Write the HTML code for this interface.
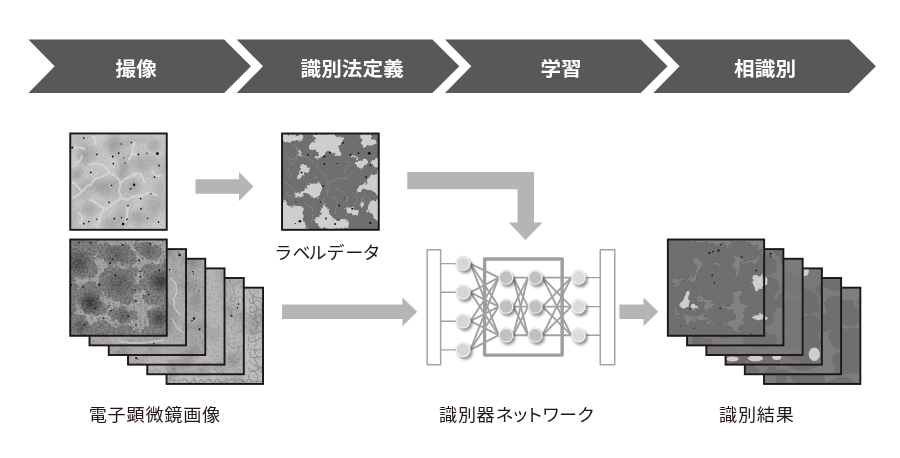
<!DOCTYPE html>
<html lang="ja"><head><meta charset="utf-8"><title>diagram</title>
<style>
html,body{margin:0;padding:0;background:#fff;}
body{width:900px;height:458px;overflow:hidden;}
svg{display:block;}
text{font-family:"Liberation Sans","Noto Sans CJK JP",sans-serif;}
.tx{opacity:0.999;}
.hd{font-weight:700;font-size:19.85px;fill:#fff;text-anchor:middle;letter-spacing:0.15px;}
.lb{font-weight:400;font-size:17.4px;fill:#231815;}
</style></head><body>
<svg width="900" height="458" viewBox="0 0 900 458">
<defs><filter id="rg" x="-5%" y="-5%" width="110%" height="110%" color-interpolation-filters="sRGB"><feTurbulence type="fractalNoise" baseFrequency="0.11" numOctaves="2" seed="7" result="n"/><feDisplacementMap in="SourceGraphic" in2="n" scale="6" xChannelSelector="R" yChannelSelector="G"/></filter>
<filter id="rg2" x="-5%" y="-5%" width="110%" height="110%" color-interpolation-filters="sRGB"><feTurbulence type="fractalNoise" baseFrequency="0.2" numOctaves="2" seed="11" result="n"/><feDisplacementMap in="SourceGraphic" in2="n" scale="4" xChannelSelector="R" yChannelSelector="G"/></filter>
<filter id="gd" x="0" y="0" width="100%" height="100%" color-interpolation-filters="sRGB"><feTurbulence type="fractalNoise" baseFrequency="0.45" numOctaves="3" seed="3"/><feColorMatrix type="matrix" values="0 0 0 0 0 0 0 0 0 0 0 0 0 0 0 2.2 0 0 0 -0.95"/><feComposite in2="SourceGraphic" operator="in"/></filter>
<filter id="gl" x="0" y="0" width="100%" height="100%" color-interpolation-filters="sRGB"><feTurbulence type="fractalNoise" baseFrequency="0.45" numOctaves="3" seed="5"/><feColorMatrix type="matrix" values="0 0 0 0 1 0 0 0 0 1 0 0 0 0 1 2.2 0 0 0 -0.95"/><feComposite in2="SourceGraphic" operator="in"/></filter>
<filter id="md" x="0" y="0" width="100%" height="100%" color-interpolation-filters="sRGB"><feTurbulence type="fractalNoise" baseFrequency="0.045" numOctaves="2" seed="8"/><feColorMatrix type="matrix" values="0 0 0 0 0 0 0 0 0 0 0 0 0 0 0 3.0 0 0 0 -1.35"/><feComposite in2="SourceGraphic" operator="in"/></filter>
<filter id="ml" x="0" y="0" width="100%" height="100%" color-interpolation-filters="sRGB"><feTurbulence type="fractalNoise" baseFrequency="0.045" numOctaves="2" seed="9"/><feColorMatrix type="matrix" values="0 0 0 0 1 0 0 0 0 1 0 0 0 0 1 3.0 0 0 0 -1.35"/><feComposite in2="SourceGraphic" operator="in"/></filter>
<filter id="bl" x="-10%" y="-10%" width="120%" height="120%"><feGaussianBlur stdDeviation="0.7"/></filter>
<filter id="rg3" x="-5%" y="-5%" width="110%" height="110%" color-interpolation-filters="sRGB"><feTurbulence type="fractalNoise" baseFrequency="0.22" numOctaves="3" seed="4" result="n"/><feDisplacementMap in="SourceGraphic" in2="n" scale="5" xChannelSelector="R" yChannelSelector="G"/></filter>
<filter id="rg4" x="-5%" y="-5%" width="110%" height="110%" color-interpolation-filters="sRGB"><feTurbulence type="fractalNoise" baseFrequency="0.2" numOctaves="2" seed="21" result="n"/><feDisplacementMap in="SourceGraphic" in2="n" scale="8" xChannelSelector="R" yChannelSelector="G"/></filter>
<radialGradient id="dm"><stop offset="0" stop-color="#000" stop-opacity="0.14"/><stop offset="0.6" stop-color="#000" stop-opacity="0.07"/><stop offset="1" stop-color="#000" stop-opacity="0"/></radialGradient>
<radialGradient id="dk"><stop offset="0" stop-color="#000" stop-opacity="0.55"/><stop offset="0.5" stop-color="#000" stop-opacity="0.3"/><stop offset="1" stop-color="#000" stop-opacity="0"/></radialGradient>
<clipPath id="c1"><rect x="69.8" y="133" width="97.4" height="97.2"/></clipPath>
<clipPath id="c2"><rect x="281.6" y="133.1" width="97.6" height="97.2"/></clipPath>
<clipPath id="c3"><rect x="166.1" y="287.2" width="97.4" height="97.2"/></clipPath>
<clipPath id="c4"><rect x="146.8" y="277.6" width="97.4" height="97.2"/></clipPath>
<clipPath id="c5"><rect x="127.6" y="267.9" width="97.4" height="97.2"/></clipPath>
<clipPath id="c6"><rect x="108.3" y="258.3" width="97.4" height="97.2"/></clipPath>
<clipPath id="c7"><rect x="89.1" y="248.7" width="97.4" height="97.2"/></clipPath>
<clipPath id="c8"><rect x="69.8" y="239.1" width="97.4" height="97.2"/></clipPath>
<clipPath id="c9"><rect x="763.6" y="287.2" width="97.2" height="97.2"/></clipPath>
<clipPath id="c10"><rect x="744.4" y="277.6" width="97.2" height="97.2"/></clipPath>
<clipPath id="c11"><rect x="725.1" y="267.9" width="97.2" height="97.2"/></clipPath>
<clipPath id="c12"><rect x="705.9" y="258.3" width="97.2" height="97.2"/></clipPath>
<clipPath id="c13"><rect x="686.6" y="248.7" width="97.2" height="97.2"/></clipPath>
<clipPath id="c14"><rect x="667.4" y="239.1" width="97.2" height="97.2"/></clipPath>
<filter id="sh" x="-60%" y="-60%" width="220%" height="220%"><feGaussianBlur stdDeviation="1.4"/></filter></defs>
<rect width="900" height="458" fill="#fff"/>
<polygon points="28.4,39.5 224.1,39.5 251,66.25 224.1,93.0 28.4,93.0 54.7,66.25" fill="#595757"/>
<polygon points="236.7,39.5 432.4,39.5 459.3,66.25 432.4,93.0 236.7,93.0 263,66.25" fill="#595757"/>
<polygon points="445,39.5 640.7,39.5 667.6,66.25 640.7,93.0 445,93.0 471.3,66.25" fill="#595757"/>
<polygon points="653.3,39.5 849,39.5 875.9,66.25 849,93.0 653.3,93.0 679.6,66.25" fill="#595757"/>
<g class="tx">
<text class="hd" transform="translate(136.20 76.1) scale(1.035 1)">撮像</text>
<text class="hd" transform="translate(352.20 76.1) scale(1.035 1)">識別法定義</text>
<text class="hd" transform="translate(561.10 76.1) scale(1.035 1)">学習</text>
<text class="hd" transform="translate(765.10 76.1) scale(1.035 1)">相識別</text>
</g>
<polygon points="195.5,179.2 239.0,179.2 239.0,172.1 253.4,186.5 239.0,200.9 239.0,193.8 195.5,193.8" fill="#b5b5b6"/>
<polygon points="282.1,304.5 402.4,304.5 402.4,297.4 417.2,311.8 402.4,326.2 402.4,319.1 282.1,319.1" fill="#b5b5b6"/>
<polygon points="619.4,304.5 643.5,304.5 643.5,297.4 658.3,311.8 643.5,326.2 643.5,319.1 619.4,319.1" fill="#b5b5b6"/>
<polygon points="407.3,172.1 534,172.1 534,222.5 542.5,222.5 525.5,239.9 508.7,222.5 517.5,222.5 517.5,189.2 407.3,189.2" fill="#b5b5b6"/>
<g clip-path="url(#c1)"><rect x="69.3" y="132.5" width="98.4" height="98.2" fill="#c4c4c4"/><rect x="69.3" y="132.5" width="99" height="99" filter="url(#md)" opacity="0.1"/><rect x="69.3" y="132.5" width="99" height="99" filter="url(#ml)" opacity="0.15"/><circle cx="86.5" cy="153.8" r="13.1" fill="url(#dm)"/><circle cx="101.8" cy="186.6" r="13.1" fill="url(#dm)"/><circle cx="141.1" cy="164.8" r="13.1" fill="url(#dm)"/><circle cx="152" cy="206.2" r="13.1" fill="url(#dm)"/><circle cx="123.6" cy="169.1" r="9.8" fill="url(#dm)"/><circle cx="90.8" cy="208.4" r="10.9" fill="url(#dm)"/><circle cx="134.5" cy="186.6" r="8.7" fill="url(#dm)"/><circle cx="112.7" cy="145.1" r="10.9" fill="url(#dm)"/><circle cx="154.2" cy="145.1" r="8.7" fill="url(#dm)"/><circle cx="77.7" cy="173.5" r="8.7" fill="url(#dm)"/><circle cx="138.9" cy="219.3" r="9.8" fill="url(#dm)"/><circle cx="108.3" cy="223.7" r="8.7" fill="url(#dm)"/><g fill="none" stroke="#dcdcdc" stroke-width="2.3" stroke-linecap="round" filter="url(#bl)" opacity="0.75"><path d="M72.3 148.4C74.8 148.2 75.9 147.4 79.9 147.7C83.9 148.1 82.8 148.9 84.3 149.5"/><path d="M93 136.4C93.7 137.8 94.8 138.2 95.2 140.7C95.6 143.3 94.5 142.9 94.1 144"/><path d="M89.7 164.8C92.3 164.4 92.3 162.9 97.4 163.7C102.5 164.4 101 164 105 166.9C109 169.8 105.8 169.1 109.4 172.4C113 175.7 112.3 173.1 115.9 176.8C119.6 180.4 119.2 178.6 120.3 183.3C121.4 188 119.2 186.2 119.2 191C119.2 195.7 122.5 193.1 120.3 197.5C118.1 201.9 117 200.4 112.7 204.1C108.3 207.7 110.8 205.5 107.2 208.4C103.6 211.3 104.3 209.1 101.8 212.8C99.2 216.4 101 215 99.6 219.3C98.1 223.7 98.1 223.7 97.4 225.9"/><path d="M120.3 183.3C122.1 181.9 121.8 181.5 125.8 178.9C129.8 176.4 128 177.5 132.3 175.7C136.7 173.8 135.6 173.1 138.9 173.5C142.1 173.8 140.3 173.8 142.1 176.8C144 179.7 143.6 180.4 144.3 182.2"/><path d="M72.3 182.2C74.1 183.7 74.5 183.7 77.7 186.6C81 189.5 79.2 191 82.1 191C85 191 83.6 188.8 86.5 186.6C89.4 184.4 87.9 186.9 90.8 184.4C93.7 181.9 91.6 181.5 95.2 178.9C98.8 176.4 97 178.9 101.8 176.8C106.5 174.6 106.8 173.8 109.4 172.4"/><path d="M82.1 191C80.6 192.4 80.6 193.1 77.7 195.3C74.8 197.5 74.8 196.8 73.4 197.5"/><path d="M90.8 199.7C93 201.1 93.7 201.5 97.4 204.1C101 206.6 98.5 205.9 101.8 207.3C105 208.8 105.4 208.1 107.2 208.4"/><path d="M120.3 197.5C122.5 198.2 123.2 199.7 126.9 199.7C130.5 199.7 126.5 199 131.2 197.5C136 196 134.9 196.8 141.1 195.3C147.2 193.9 144.7 193.1 149.8 193.1C154.9 193.1 154.2 194.6 156.3 195.3"/><path d="M128 206.2C127.6 209.1 127.6 209.9 126.9 215C126.1 220.1 126.1 219.3 125.8 221.5"/><path d="M134.5 142.9C133.8 145.1 133.4 145.1 132.3 149.5C131.2 153.8 132.7 152.4 131.2 156C129.8 159.7 129 158.9 128 160.4"/><path d="M131.2 156C132.3 155.3 132 154.2 134.5 153.8C137 153.5 137.4 154.6 138.9 154.9"/><path d="M75.6 162.6C77 161.8 77.7 162.6 79.9 160.4C82.1 158.2 81.4 157.5 82.1 156"/><path d="M152 171.3C153.4 172.8 153.4 174.6 156.3 175.7C159.2 176.8 159.2 174.9 160.7 174.6"/><path d="M77.7 212.8C79.2 214.2 81.4 213.5 82.1 217.2C82.8 220.8 80.6 221.5 79.9 223.7"/></g><rect x="69.3" y="132.5" width="99" height="99" filter="url(#gd)" opacity="0.08"/><rect x="69.3" y="132.5" width="99" height="99" filter="url(#gl)" opacity="0.08"/><g fill="#111"><circle cx="83.8" cy="138.1" r="0.85"/><circle cx="72.3" cy="147.7" r="1.1"/><circle cx="96.9" cy="154.3" r="0.85"/><circle cx="112.7" cy="156.5" r="1.0"/><circle cx="118.8" cy="153.2" r="0.85"/><circle cx="123.6" cy="157.8" r="0.6"/><circle cx="121.4" cy="144" r="0.7"/><circle cx="131.2" cy="142.5" r="0.85"/><circle cx="138.4" cy="154.5" r="1.0"/><circle cx="146.9" cy="153.2" r="0.7"/><circle cx="157.4" cy="153.4" r="1.5"/><circle cx="113.3" cy="163.7" r="0.85"/><circle cx="125.1" cy="163.2" r="0.6"/><circle cx="159" cy="165.4" r="0.85"/><circle cx="90.8" cy="172.4" r="0.85"/><circle cx="154.6" cy="177.2" r="0.85"/><circle cx="111.6" cy="185.5" r="0.7"/><circle cx="134.1" cy="184.8" r="1.3"/><circle cx="130.6" cy="188.8" r="0.85"/><circle cx="150.9" cy="193.8" r="0.7"/><circle cx="140.6" cy="198.6" r="0.85"/><circle cx="109" cy="202.3" r="0.85"/><circle cx="128" cy="205.6" r="0.85"/><circle cx="141.1" cy="208.9" r="0.85"/><circle cx="114.4" cy="218.7" r="0.85"/><circle cx="121.4" cy="217.8" r="0.7"/><circle cx="126.9" cy="219.3" r="0.85"/><circle cx="123.1" cy="224.1" r="1.3"/><circle cx="88.7" cy="221.5" r="0.85"/><circle cx="83.8" cy="223.7" r="0.85"/><circle cx="96.9" cy="219.3" r="0.7"/><circle cx="147.6" cy="218.2" r="0.7"/><circle cx="158.5" cy="222.2" r="0.85"/></g></g><rect x="70.25" y="133.45" width="96.50" height="96.35" fill="none" stroke="#1f1512" stroke-width="1.9"/>
<g clip-path="url(#c2)"><rect x="281.1" y="132.6" width="98.6" height="98.2" fill="#6f6f6f"/><g fill="none" stroke="#898989" stroke-width="0.9" filter="url(#rg)"><path d="M284.5 155.5C287.4 156.2 288.2 158.1 293.4 157.7C298.6 157.4 294.8 154 300 154.4C305.2 154.8 304.5 155.5 309 158.8C313.4 162.2 309.7 161.1 313.4 164.4C317.1 167.7 316.4 165.1 320.1 168.9C323.8 172.6 321.9 170.7 324.5 175.5C327.1 180.4 327.1 178.1 327.9 183.3C328.6 188.5 327.9 186.3 326.8 191.1C325.7 196 326 193.4 324.5 197.8C323.1 202.3 323.1 202.3 322.3 204.5"/><path d="M327.9 183.3C330.5 182.2 330.1 181.5 335.7 180C341.2 178.5 339.4 181.1 344.6 178.9C349.8 176.7 347.6 175.9 351.3 173.3C355 170.7 354.2 171.8 355.7 171.1"/><path d="M284.5 182.2C286.7 183.7 287.4 183.7 291.1 186.7C294.8 189.6 295.6 188.2 295.6 191.1C295.6 194.1 294.1 194.5 291.1 195.6C288.2 196.7 288.2 194.8 286.7 194.5"/><path d="M335.7 186.7C337.9 188.9 338.6 189.6 342.4 193.4C346.1 197.1 346.1 194.8 346.8 197.8C347.6 200.8 345.3 200.8 344.6 202.3"/><path d="M346.8 157.7C347.6 160 349.8 160.7 349 164.4C348.3 168.1 345.3 165.1 344.6 168.9C343.8 172.6 346.1 173.3 346.8 175.5"/><path d="M304.5 204.5C306.7 205.6 308.2 204.1 311.2 207.8C314.1 211.5 313.4 210.8 313.4 215.6C313.4 220.5 311.9 220.1 311.2 222.3"/><path d="M286.7 168.9C288.2 170.3 290.4 170.3 291.1 173.3C291.9 176.3 289.7 176.3 288.9 177.8"/><path d="M293.4 144.4C294.8 146.6 297.1 145.8 297.8 151C298.6 156.2 298.6 155.5 295.6 160C292.6 164.4 291.1 162.9 288.9 164.4"/><path d="M331.2 197.8C333.5 199.3 336.4 197.8 337.9 202.3C339.4 206.7 334.9 206 335.7 211.2C336.4 216.4 338.6 215.6 340.1 217.9"/><path d="M353.5 193.4C355 194.8 357.2 194.1 358 197.8C358.7 201.5 356.5 202.3 355.7 204.5"/><path d="M313.4 177.8C314.9 178.9 317.1 178.1 317.9 181.1C318.6 184.1 316.4 184.8 315.6 186.7"/><path d="M364.6 195.6C363.9 197.1 362 197.1 362.4 200C362.8 203 364.6 203 365.7 204.5"/></g><g fill="#cecece" filter="url(#rg3)"><path d="M282.3 134.4C283.2 132.9 283.5 134.2 286.8 134.4C290.2 134.7 291 135.3 294.8 135.3C298.6 135.4 299.1 133.7 301 134.6C302.9 135.6 302.9 137.2 301.8 139C300.8 140.7 299.2 140.8 297 141.2C294.9 141.7 295.5 140.2 293.6 140.7C291.8 141.1 292.3 142.5 290.2 142.9C288.1 143.4 287.6 143.1 285.7 142.4C283.8 141.6 284.1 142.2 283.2 140.1C282.3 138 281.3 135.9 282.3 134.4Z"/><path d="M313 135.3C313.6 133.7 314.2 134.3 317.5 133.8C320.8 133.4 321.2 133.3 325.5 133.5C329.7 133.7 330.4 133.6 333.4 134.4C336.4 135.3 334.5 135.8 336.8 136.7C339.1 137.5 340 137.3 341.9 137.6C343.9 137.9 343.9 136.7 344.2 137.8C344.5 138.9 344 140 343.1 141.8C342.2 143.6 341.9 143 340.8 144.6C339.7 146.3 338.9 145.6 339.1 148C339.2 150.5 341.4 151.3 341.4 153.7C341.4 156.2 340.6 156.8 339.1 157.1C337.6 157.4 337.6 155.8 335.7 154.9C333.8 154 333.6 154.8 332 153.7C330.5 152.7 331.2 151.4 330 150.9C328.8 150.3 329.5 150.5 327.7 151.7C325.9 152.9 325.3 153.9 323.2 155.4C321.1 156.9 321.9 156.5 319.8 157.4C317.7 158.3 316.7 159.1 315.2 158.8C313.7 158.6 313.2 157.6 314.1 156.6C315 155.5 317.7 156.2 318.6 154.9C319.5 153.5 319 152.7 317.5 151.5C316 150.2 315.2 151.2 313 150.3C310.7 149.4 309.6 149.9 309 148C308.4 146.2 309 145.6 310.7 143.5C312.3 141.4 314.6 142.3 315.2 140.1C315.8 137.9 312.3 137 313 135.3Z"/><path d="M300.5 166.2C301.8 165.2 302.7 164.5 305 165.1C307.3 165.7 308.1 166.7 309 168.5C309.9 170.3 309.6 170.5 308.4 171.9C307.2 173.3 305.9 172.4 304.4 173.6C302.9 174.8 303.8 175.1 302.7 176.5C301.7 177.8 302 178.4 300.5 178.7C298.9 179 298.1 178.7 297 177.6C296 176.5 295.9 176.1 296.5 174.8C297.1 173.4 298.4 174 299.3 172.5C300.2 171 299.6 170.7 299.9 169.1C300.2 167.4 299.1 167.3 300.5 166.2Z"/><path d="M298.2 150.3C298.6 150.3 299 151.2 299.9 152.6C300.8 154 301.6 154.8 301.6 155.4C301.6 156 300.8 155.6 299.9 154.9C299 154.1 298.6 153.8 298.2 152.6C297.7 151.4 297.7 150.3 298.2 150.3Z"/><path d="M360.7 134.4C363 133.2 366.9 133.2 369.8 134.4C372.7 135.6 370 137.1 371.5 139C373 140.8 374.2 140 375.5 141.2C376.7 142.4 376.9 142.4 376 143.5C375.1 144.6 374.3 144.6 372 145.2C369.8 145.8 369.9 145 367.5 145.8C365.1 146.5 364.5 148.7 363 148C361.4 147.4 362.3 145.9 361.8 143.5C361.4 141.1 361.6 141.4 361.2 139C360.9 136.5 358.4 135.6 360.7 134.4Z"/><path d="M355.6 162.8C356 161.3 357.3 161.5 359.5 160.5C361.8 159.6 362 159 364.1 159.4C366.2 159.9 367.2 160.7 367.5 162.2C367.8 163.8 366.4 164 365.2 165.1C364 166.2 364.2 165.3 363 166.2C361.7 167.1 362 168.5 360.7 168.5C359.3 168.5 359.2 167.7 357.8 166.2C356.5 164.7 355.1 164.3 355.6 162.8Z"/><path d="M351.6 155.4C352.3 155.1 353.8 155.1 355.6 156C357.4 156.9 358.3 158.2 358.4 158.8C358.6 159.4 357.7 158.7 356.1 158.3C354.6 157.8 353.9 157.9 352.7 157.1C351.5 156.4 350.8 155.7 351.6 155.4Z"/><path d="M372 161.7C373.4 160 374.6 158.7 376.6 158.3C378.6 157.8 378.7 157.4 379.4 160C380.2 162.6 380.6 166.3 379.4 167.9C378.2 169.6 377 167.1 374.9 166.2C372.8 165.3 372.2 165.7 371.5 164.5C370.7 163.3 370.7 163.3 372 161.7Z"/><path d="M367.5 179.9C368.7 177.8 368.8 177 370.9 175.3C373 173.7 373.2 173.9 375.5 173.6C377.7 173.3 378.4 168.6 379.4 174.2C380.5 179.8 380.5 189.3 379.4 194.6C378.4 199.9 377.1 195 375.5 194.1C373.8 193.2 375 192.3 373.2 191.2C371.4 190.2 371.1 190.7 368.6 190.1C366.2 189.5 366.2 188.5 364.1 189C362 189.4 362.5 190.9 360.7 191.8C358.9 192.7 358.5 193.1 357.3 192.4C356.1 191.6 355.5 190.5 356.1 189C356.7 187.4 357.7 187.9 359.5 186.7C361.4 185.5 361.1 185.4 363 184.4C364.8 183.4 365.2 184.3 366.4 183C367.6 181.8 366.3 181.9 367.5 179.9Z"/><path d="M306.7 186.7C308.4 185.2 307.8 185.3 310.7 184.4C313.6 183.5 314.8 183.1 317.5 183.3C320.2 183.4 320.2 183.2 320.9 185C321.7 186.8 320.8 187.8 320.3 190.1C319.9 192.4 319.7 191.4 319.2 193.5C318.8 195.6 320 196.7 318.6 198C317.3 199.4 315.9 199.2 314.1 198.6C312.3 198 313.3 197.1 311.8 195.8C310.3 194.4 310.4 194 308.4 193.5C306.4 193 306.4 193.3 304.4 194.1C302.5 194.8 303 195.4 301 196.3C299.1 197.2 298.6 197.8 297 197.5C295.5 197.2 295.3 196.4 295.3 195.2C295.3 194 295.4 193.7 297 192.9C298.7 192.2 299.6 193.1 301.6 192.4C303.6 191.6 303.1 191.6 304.4 190.1C305.8 188.6 305 188.2 306.7 186.7Z"/><path d="M282.3 202C283.5 194.8 285.2 201.7 286.8 202.6C288.5 203.5 286.4 204.4 288.5 205.4C290.6 206.5 291.6 206.4 294.8 206.6C298 206.7 298.3 205.4 300.5 206C302.6 206.6 302.4 207 302.7 208.8C303 210.7 301.3 211.2 301.6 212.8C301.9 214.5 303.6 213.6 303.9 215.1C304.2 216.6 302.6 216.7 302.7 218.5C302.9 220.3 303.7 219.8 304.4 221.9C305.2 224 305.1 224.3 305.6 226.5C306.1 228.6 312.6 229 306.4 229.9C300.2 230.8 288.7 237.3 282.3 229.9C275.8 222.4 281.1 209.3 282.3 202Z"/><path d="M322.6 205.4C323.7 204.1 324.1 204.4 325.5 205.4C326.8 206.5 326.5 207.1 327.7 209.4C328.9 211.7 328.5 211.8 330 214C331.5 216.1 331.6 215.7 333.4 217.4C335.2 219 334.7 219.4 336.8 220.2C338.9 221.1 338.6 220.7 341.4 220.5C344.1 220.4 345.1 219 347 219.6C349 220.3 348.4 221.2 348.8 223C349.1 224.9 349.2 225 348.2 226.5C347.1 227.9 347.8 227.7 344.8 228.5C341.7 229.3 342 229.4 336.8 229.6C331.7 229.8 330 230.1 325.5 229.3C320.9 228.4 322.2 228.1 319.8 226.5C317.3 224.8 317.4 225.2 316.4 223C315.3 220.9 314.9 220.6 315.8 218.5C316.7 216.4 318.3 217.2 319.8 215.1C321.3 213 320.7 213.1 321.5 210.5C322.2 208 321.6 206.8 322.6 205.4Z"/><path d="M369.8 201.5C371.1 200.2 371.7 200.2 374.3 200.3C376.9 200.5 378.1 196.9 379.4 202C380.8 207.2 380.5 215.1 379.4 219.6C378.4 224.2 377.1 220.3 375.5 219.1C373.8 217.9 374.7 216.8 373.2 215.1C371.7 213.4 371.6 213.7 369.8 212.8C368 211.9 366.7 212.9 366.4 211.7C366.1 210.5 367.9 210.1 368.6 208.3C369.4 206.5 368.9 206.7 369.2 204.9C369.5 203 368.4 202.7 369.8 201.5Z"/><path d="M345.9 208.3C347 207.2 347.5 206.9 349.3 206.6C351.1 206.3 351.5 206.4 352.7 207.1C353.9 207.9 352.7 208.5 353.9 209.4C355.1 210.3 356.1 209.6 357.3 210.5C358.5 211.5 358.7 211.6 358.4 212.8C358.1 214 357.7 214.6 356.1 215.1C354.6 215.5 354.5 215 352.7 214.5C350.9 214.1 351 213.8 349.3 213.4C347.7 212.9 347.5 213.6 346.5 212.8C345.4 212.1 345.5 211.8 345.3 210.5C345.2 209.3 344.8 209.3 345.9 208.3Z"/><path d="M360.1 202.6C360.7 201.5 361.3 201.2 362.4 201.5C363.4 201.8 364.1 202.4 364.1 203.7C364.1 205.1 363.4 206.1 362.4 206.6C361.3 207 360.7 206.5 360.1 205.4C359.5 204.4 359.5 203.7 360.1 202.6Z"/></g><g fill="#111"><circle cx="307.8" cy="154.9" r="0.9"/><circle cx="324.3" cy="156.6" r="1.1"/><circle cx="330" cy="152.6" r="1.1"/><circle cx="324.3" cy="164" r="0.9"/><circle cx="301.6" cy="172.5" r="1.0"/><circle cx="343.1" cy="142.9" r="0.9"/><circle cx="350.5" cy="154.9" r="0.9"/><circle cx="358.4" cy="153.2" r="0.9"/><circle cx="369.2" cy="153.2" r="1.5"/><circle cx="370.3" cy="165.1" r="0.9"/><circle cx="366.1" cy="177" r="0.9"/><circle cx="337.4" cy="163.4" r="0.6"/><circle cx="323.2" cy="186.1" r="0.9"/><circle cx="320.3" cy="202" r="0.7"/><circle cx="299.9" cy="221.3" r="1.3"/><circle cx="295.3" cy="223.6" r="0.7"/><circle cx="326" cy="218.5" r="0.9"/><circle cx="295.9" cy="202" r="0.6"/><circle cx="339.1" cy="205.4" r="1.0"/><circle cx="352.2" cy="208.8" r="1.0"/><circle cx="370.3" cy="223" r="1.1"/><circle cx="335.1" cy="224" r="1.0"/><circle cx="338" cy="219.6" r="0.7"/><circle cx="344.2" cy="198" r="0.6"/></g></g><rect x="282.05" y="133.50" width="96.70" height="96.30" fill="none" stroke="#1f1512" stroke-width="1.9"/>
<g clip-path="url(#c3)"><rect x="165.6" y="286.7" width="98.4" height="98.2" fill="#b6b6b6"/><rect x="165.6" y="286.7" width="99" height="99" fill="#bcbcbc"/><rect x="165.6" y="286.7" width="99" height="99" filter="url(#md)" opacity="0.16"/><rect x="165.6" y="286.7" width="99" height="99" filter="url(#ml)" opacity="0.08"/><g fill="none" stroke="#7c7c7c" stroke-width="0.8" stroke-linecap="round" opacity="0.9"><path d="M249 290.7C250.5 292.5 250.4 293.8 253.3 296C256.2 298.2 255 296.3 257.8 297.2C260.6 298.1 260.4 298.3 261.7 298.8"/><path d="M249.4 298.4C250.1 300.1 248.7 302.8 251.7 303.4C254.7 304.1 255 299.1 258.4 300.4C261.7 301.6 260.6 304.9 261.7 307.1"/><path d="M250.7 306C250.8 308.2 248 311.5 251 312.5C254 313.5 256.2 309.4 259.8 309.1C263.3 308.7 261.1 310.7 261.7 311.5"/><path d="M249.4 313.7C250.8 315.6 249.9 319.1 253.5 319.4C257 319.8 257.3 314.1 260 314.8C262.8 315.5 261.2 319.3 261.7 321.5"/><path d="M250.7 321.4C252.6 323.2 254.5 326.8 256.6 326.8C258.7 326.8 255.2 321.7 257 321.4C258.7 321.1 260.1 324.5 261.7 326"/><path d="M250.5 329C251.2 330.5 249 332.7 252.6 333.5C256.1 334.3 258.2 330.8 261.2 331.5C264.3 332.3 261.6 334.4 261.7 335.8"/><path d="M248.5 336.7C249.4 338.5 247 341.6 251.1 342C255.3 342.5 257.4 338 261 338C264.5 337.9 261.5 340.5 261.7 341.8"/><path d="M248.4 344.4C249.2 346 246.8 347.6 251 349.4C255.1 351.1 257.2 349.1 260.8 349.6C264.4 350.2 261.4 350.6 261.7 351"/><path d="M250.2 352C250.7 353.8 248.8 355.7 251.6 357.3C254.5 358.9 255.2 357.1 258.6 356.8C262 356.6 260.7 356.7 261.7 356.6"/><path d="M249.8 359.7C250.3 360.9 247.7 360.8 251.3 363.4C255 365.9 257.3 366.4 260.8 367.3C264.3 368.1 261.4 366.3 261.7 365.9"/><path d="M248.4 367.4C249.7 368.7 248.4 371 252.2 371.5C256 371.9 256.7 368.6 259.8 368.8C263 369 261.1 370.9 261.7 372"/><path d="M248.6 375C249.6 376.9 247.6 378.6 251.7 380.6C255.8 382.7 257.5 381 260.8 381.3C264.2 381.5 261.4 381.4 261.7 381.4"/><path d="M169.6 378.5C171 379.2 171.6 379.9 173.9 380.5C176.2 381.1 174.7 379.7 176.6 380.3C178.5 381 178.6 381.8 179.6 382.5"/><path d="M177.6 378.5C178.9 379.2 179.2 380.4 181.6 380.7C183.9 381 182.6 378.7 184.6 379.3C186.6 379.8 186.6 381.4 187.6 382.5"/><path d="M185.6 379.2C187 380.5 187.4 382.8 189.8 383.1C192.1 383.4 190.7 380.4 192.6 380.2C194.5 380 194.6 381.7 195.6 382.5"/><path d="M193.6 378.2C195.1 379.9 195.8 382.7 198.2 383.2C200.5 383.7 198.8 379.8 200.6 379.6C202.4 379.3 202.6 381.5 203.6 382.5"/><path d="M201.6 379.3C202.7 380.2 202.5 381.9 204.8 381.9C207.1 382 206.3 379.1 208.6 379.3C210.9 379.5 210.6 381.4 211.6 382.5"/><path d="M209.6 378.7C211 379.9 211.5 381.9 213.9 382.2C216.2 382.5 214.7 379.5 216.6 379.6C218.5 379.7 218.6 381.5 219.6 382.5"/><path d="M217.6 378.9C218.8 379.9 218.8 381 221.1 381.8C223.4 382.6 222.4 381.1 224.6 381.3C226.8 381.6 226.6 382.1 227.6 382.5"/><path d="M225.6 378.7C226.6 379.3 226.4 380.2 228.7 380.5C231 380.8 230.3 378.9 232.6 379.6C234.9 380.3 234.6 381.5 235.6 382.5"/><path d="M233.6 377.6C234.7 378.7 234.5 380.2 236.9 380.8C239.2 381.4 238.4 378.7 240.6 379.3C242.8 379.8 242.6 381.4 243.6 382.5"/><path d="M241.6 380.4C243.1 380.9 243.7 382.3 246.1 381.8C248.4 381.4 246.8 379 248.6 379.2C250.4 379.4 250.6 381.4 251.6 382.5"/><path d="M253.7 294.7C253.6 296.7 252.3 296.7 253.2 300.7C254.1 304.7 255.4 304.7 256.5 306.7"/><path d="M256.9 307.3C256.5 309.3 256.7 309.3 255.7 313.3C254.8 317.3 254.7 317.3 254.1 319.3"/><path d="M254.9 319.8C255.9 321.8 258.8 321.8 257.8 325.8C256.8 329.8 253.9 329.8 252 331.8"/><path d="M251.6 332.4C252.7 334.4 253.4 334.4 254.9 338.4C256.5 342.4 255.8 342.4 256.2 344.4"/><path d="M254.9 345C254.8 347 253.8 347 254.6 351C255.5 355 256.5 355 257.4 357"/><path d="M253.6 357.6C254.7 359.6 255.2 359.6 256.8 363.6C258.4 367.6 257.9 367.6 258.4 369.6"/><path d="M253.2 370.1C254.6 372.1 256.2 372.1 257.3 376.1C258.4 380.1 256.8 380.1 256.5 382.1"/></g><rect x="165.6" y="286.7" width="99" height="99" filter="url(#gd)" opacity="0.13"/><rect x="165.6" y="286.7" width="99" height="99" filter="url(#gl)" opacity="0.1"/></g><rect x="166.55" y="287.65" width="96.50" height="96.25" fill="none" stroke="#1f1512" stroke-width="1.9"/>
<g clip-path="url(#c4)"><rect x="146.3" y="277.1" width="98.4" height="98.2" fill="#b6b6b6"/><rect x="146.3" y="277.1" width="99" height="99" fill="#b4b4b4"/><rect x="146.3" y="277.1" width="99" height="99" filter="url(#md)" opacity="0.16"/><rect x="146.3" y="277.1" width="99" height="99" filter="url(#ml)" opacity="0.08"/><g fill="#111"><circle cx="238.5" cy="304.1" r="0.8"/><circle cx="237.5" cy="307.8" r="0.8"/><circle cx="231.5" cy="315.8" r="1.1"/></g><g fill="none" stroke="#7c7c7c" stroke-width="0.8" stroke-linecap="round" opacity="0.6"><path d="M229.3 281.1C230.8 282.3 229.6 284.6 233.7 284.6C237.9 284.6 238.9 280.1 241.8 281.1C244.7 282.1 242.3 285.4 242.5 287.6"/><path d="M231.1 296.4C231.4 298.1 228.8 301.5 232 301.6C235.1 301.7 237.1 296.5 240.6 296.7C244.1 297 241.8 300.4 242.5 302.3"/><path d="M230.3 311.7C231.6 313.7 231.5 317 234.2 317.6C236.8 318.3 235.5 314.1 238.3 313.6C241 313.2 241.1 315.4 242.5 316.3"/><path d="M229.5 327.1C232 328.9 233.1 331.4 237 332.4C241 333.5 239.5 329.3 241.4 330.1C243.2 330.9 242.1 333.2 242.5 334.8"/><path d="M227.9 342.4C229.7 344.3 228.8 347 233.2 348.1C237.6 349.2 238 346.2 241.1 345.8C244.2 345.4 242 346.5 242.5 346.8"/><path d="M228.5 357.7C229.9 359.1 228.4 361.3 232.7 361.9C237.1 362.4 238.3 357.9 241.5 359.3C244.8 360.8 242.2 363.9 242.5 366.2"/><path d="M150.3 370.5C151.4 371 151.2 372.2 153.5 372C155.8 371.8 155.1 369.5 157.3 369.8C159.6 370.1 159.3 371.8 160.3 372.8"/><path d="M166.3 367.9C167.8 369.8 168.3 373.4 170.6 373.6C172.9 373.7 171.4 368.5 173.3 368.3C175.2 368 175.3 371.3 176.3 372.8"/><path d="M182.3 369.6C183.5 370.6 183.4 372 185.7 372.6C188 373.2 187.1 371.3 189.3 371.4C191.6 371.5 191.3 372.4 192.3 372.8"/><path d="M198.3 368.4C199.3 369.3 199 370.6 201.4 371.1C203.7 371.6 203 369.4 205.3 370C207.7 370.6 207.3 371.9 208.3 372.8"/><path d="M214.3 367.9C215.4 369.4 215.3 371.1 217.6 372.3C219.9 373.5 219.1 371.4 221.3 371.5C223.6 371.7 223.3 372.4 224.3 372.8"/><path d="M233.8 285.1C233.7 287.1 232.5 287.1 233.5 291.1C234.4 295.1 235.5 295.1 236.6 297.1"/><path d="M231.2 314.4C232.6 316.4 234.7 316.4 235.3 320.4C235.8 324.4 233.7 324.4 232.9 326.4"/><path d="M235.4 343.7C236.6 345.7 240.2 345.7 239.1 349.7C237.9 353.7 234.3 353.7 231.9 355.7"/></g><rect x="146.3" y="277.1" width="99" height="99" filter="url(#gd)" opacity="0.13"/><rect x="146.3" y="277.1" width="99" height="99" filter="url(#gl)" opacity="0.1"/></g><rect x="147.29" y="278.02" width="96.50" height="96.25" fill="none" stroke="#1f1512" stroke-width="1.9"/>
<g clip-path="url(#c5)"><rect x="127.1" y="267.4" width="98.4" height="98.2" fill="#b6b6b6"/><rect x="127.1" y="267.4" width="99" height="99" fill="#b5b5b5"/><rect x="127.1" y="267.4" width="99" height="99" filter="url(#md)" opacity="0.16"/><rect x="127.1" y="267.4" width="99" height="99" filter="url(#ml)" opacity="0.08"/><g fill="#111"><circle cx="136.1" cy="358" r="1.1"/><circle cx="137.7" cy="359.1" r="0.7"/></g><rect x="127.1" y="267.4" width="99" height="99" filter="url(#gd)" opacity="0.13"/><rect x="127.1" y="267.4" width="99" height="99" filter="url(#gl)" opacity="0.1"/></g><rect x="128.03" y="268.39" width="96.50" height="96.25" fill="none" stroke="#1f1512" stroke-width="1.9"/>
<g clip-path="url(#c6)"><rect x="107.8" y="257.8" width="98.4" height="98.2" fill="#b6b6b6"/><rect x="107.8" y="257.8" width="99" height="99" fill="#a7a7a7"/><rect x="107.8" y="257.8" width="99" height="99" filter="url(#md)" opacity="0.16"/><rect x="107.8" y="257.8" width="99" height="99" filter="url(#ml)" opacity="0.08"/><g fill="#111"><circle cx="192.9" cy="271.7" r="0.8"/><circle cx="193.5" cy="274" r="0.6"/><circle cx="194" cy="318.5" r="1.2"/><circle cx="192" cy="320.8" r="0.7"/><circle cx="199.5" cy="329.2" r="1.0"/><circle cx="199" cy="290.8" r="0.6"/></g><g fill="none" stroke="#989898" stroke-width="0.8" stroke-linecap="round"><path d="M190 332.8C191.6 335.1 191.3 338.1 195 339.8C198.6 341.5 198.6 335.8 201 337.8C203.3 339.8 201.6 343.1 202 345.8"/></g><rect x="107.8" y="257.8" width="99" height="99" filter="url(#gd)" opacity="0.13"/><rect x="107.8" y="257.8" width="99" height="99" filter="url(#gl)" opacity="0.1"/></g><rect x="108.77" y="258.76" width="96.50" height="96.25" fill="none" stroke="#1f1512" stroke-width="1.9"/>
<g clip-path="url(#c7)"><rect x="88.6" y="248.2" width="98.4" height="98.2" fill="#b6b6b6"/><rect x="88.6" y="248.2" width="99" height="99" fill="#adadad"/><rect x="88.6" y="248.2" width="99" height="99" filter="url(#md)" opacity="0.16"/><rect x="88.6" y="248.2" width="99" height="99" filter="url(#ml)" opacity="0.08"/><g fill="none" stroke="#cfcfcf" stroke-width="1.6" stroke-linecap="round" opacity="0.8"><path d="M170.7 278.2C172.7 281.5 175.7 279.8 176.7 288.2C177.7 296.5 172.7 294.5 173.7 303.2C174.7 311.8 177.7 310.5 179.7 314.2"/><path d="M171.7 318.2C173.7 321.5 173.7 323.5 177.7 328.2C181.7 332.8 181.7 330.8 183.7 332.2"/><path d="M118.6 341C125.2 341.6 123.6 343.3 138.6 343C153.6 342.6 155.2 341 163.6 340"/></g><g fill="#111"><circle cx="179.5" cy="255" r="1.3"/><circle cx="178.2" cy="252.2" r="0.6"/><circle cx="169.5" cy="269.5" r="0.7"/></g><g fill="#111"><circle cx="153.9" cy="343.5" r="0.8"/></g><rect x="88.6" y="248.2" width="99" height="99" filter="url(#gd)" opacity="0.13"/><rect x="88.6" y="248.2" width="99" height="99" filter="url(#gl)" opacity="0.1"/></g><rect x="89.51" y="249.13" width="96.50" height="96.25" fill="none" stroke="#1f1512" stroke-width="1.9"/>
<g clip-path="url(#c8)"><rect x="69.3" y="238.6" width="98.4" height="98.2" fill="#a4a4a4"/><g fill="#7c7c7c" stroke="#7c7c7c" stroke-width="0.8" filter="url(#rg4)"><path d="M97 247C99.2 242.9 98.4 244.1 104.7 243.7C111.1 243.3 109.2 245.5 115.9 245.9C122.6 246.3 119.2 243.3 124.8 244.8C130.4 246.3 128.9 245.9 132.6 250.4C136.3 254.8 135.9 253.7 135.9 258.2C135.9 262.6 136.3 261.5 132.6 263.7C128.9 266 129.6 265.6 124.8 264.8C120 264.1 122.9 261.9 118.1 261.5C113.3 261.1 115.1 264.1 110.3 263.7C105.5 263.4 107.7 263 103.6 260.4C99.6 257.8 100.3 260.4 98.1 255.9C95.8 251.5 94.7 251.1 97 247Z"/><path d="M134.8 243.7C137.8 241.1 139.3 241.8 146 242.6C152.6 243.3 149.7 242.6 154.9 245.9C160.1 249.2 160.8 248.5 161.5 252.6C162.3 256.7 161.2 255.9 157.1 258.2C153 260.4 154.5 260 149.3 259.3C144.1 258.5 145.6 258.9 141.5 255.9C137.4 253 139.3 254.4 137 250.4C134.8 246.3 131.8 246.3 134.8 243.7Z"/><path d="M142.6 267.1C145.2 263.4 145.6 264.1 150.4 263.7C155.2 263.4 151.5 266.7 157.1 266C162.7 265.2 163.8 249.6 167.1 261.5C170.4 273.4 169 287.5 167.1 301.6C165.3 315.7 166 302.7 161.5 303.8C157.1 304.9 158.9 305.7 153.7 304.9C148.5 304.2 148.9 304.9 146 301.6C143 298.2 144.1 299 144.8 294.9C145.6 290.8 149.3 290.8 148.2 289.3C147.1 287.9 145.2 291.2 141.5 290.5C137.8 289.7 137.8 290.5 137 287.1C136.3 283.8 137.4 284.5 139.3 280.4C141.1 276.3 141.5 279.3 142.6 274.9C143.7 270.4 140 270.8 142.6 267.1Z"/><path d="M101.4 272.6C105.1 267.4 103.6 267.4 110.3 266C117 264.5 114 267.8 121.5 268.2C128.9 268.6 127.4 265.2 132.6 267.1C137.8 268.9 136.3 268.9 137 273.7C137.8 278.6 134.8 276.7 134.8 281.5C134.8 286.4 137.8 283 137 288.2C136.3 293.4 133.3 292.7 132.6 297.1C131.8 301.6 137 299.4 134.8 301.6C132.6 303.8 131.8 303.8 125.9 303.8C120 303.8 122.9 303.8 117 301.6C111.1 299.4 113.3 300.8 108.1 297.1C102.9 293.4 104.4 295.6 101.4 290.5C98.4 285.3 99.2 287.5 99.2 281.5C99.2 275.6 97.7 277.8 101.4 272.6Z"/><path d="M79.1 288.2C82.8 284.1 82.1 283.8 88 282.7C94 281.5 92.9 281.5 97 284.9C101 288.2 99.6 287.9 100.3 292.7C101 297.5 97.7 295.6 99.2 299.4C100.7 303.1 102.5 300.1 104.7 303.8C107 307.5 107.7 306.8 105.9 310.5C104 314.2 104.4 313.8 99.2 315C94 316.1 95.5 315 90.3 313.8C85.1 312.7 87.3 315 83.6 311.6C79.9 308.3 81.4 309.4 79.1 303.8C76.9 298.2 76.9 300.1 76.9 294.9C76.9 289.7 75.4 292.3 79.1 288.2Z"/><path d="M69.1 240.3C76.9 227.3 83.6 237 92.5 240.3C101.4 243.7 95.1 244.1 95.8 250.4C96.6 256.7 94.4 253.3 94.7 259.3C95.1 265.2 97.3 262.6 97 268.2C96.6 273.7 97.3 272.6 93.6 276C89.9 279.3 91.4 277.8 85.8 278.2C80.2 278.6 82.5 276.7 76.9 277.1C71.3 277.5 71.7 291.6 69.1 279.3C66.5 267.1 61.3 253.3 69.1 240.3Z"/><path d="M111.4 310.5C115.1 307.5 114 307.2 120.3 307.2C126.6 307.2 125.2 307.9 130.4 310.5C135.6 313.1 135.2 311.6 135.9 315C136.7 318.3 136.7 317.9 132.6 320.5C128.5 323.1 129.6 322.7 123.7 322.7C117.7 322.7 119.6 322.7 114.8 320.5C109.9 318.3 110.3 319.4 109.2 316.1C108.1 312.7 107.7 313.5 111.4 310.5Z"/><path d="M149.3 310.5C152.6 307.5 151.1 308.6 157.1 308.3C163 307.9 163.8 300.1 167.1 309.4C170.4 318.7 174.2 327.2 167.1 336.1C160.1 345 153.7 338.7 146 336.1C138.2 333.5 142.6 332.4 143.7 328.3C144.8 324.2 148.2 327.6 149.3 323.9C150.4 320.1 147.1 321.6 147.1 317.2C147.1 312.7 146 313.5 149.3 310.5Z"/><path d="M69.1 317.2C72.5 310.1 73.6 313.8 79.1 315C84.7 316.1 82.5 316.1 85.8 320.5C89.2 325 88.4 323.1 89.2 328.3C89.9 333.5 94.7 333.5 88 336.1C81.4 338.7 75.4 342.4 69.1 336.1C62.8 329.8 65.8 324.2 69.1 317.2Z"/><path d="M92.5 323.9C97 319 97 321.3 103.6 321.6C110.3 322 105.1 323.5 112.5 325C120 326.5 118.5 324.2 125.9 326.1C133.3 327.9 131.1 327.2 134.8 330.5C138.5 333.9 151.9 334.3 137 336.1C122.2 338 105.1 340.2 90.3 336.1C75.4 332 88 328.7 92.5 323.9Z"/><path d="M69.1 283.8C71.3 274.5 73.6 276 75.8 284.9C78 293.8 78 301.2 75.8 310.5C73.6 319.8 71.3 321.6 69.1 312.7C66.9 303.8 66.9 293.1 69.1 283.8Z"/></g><circle cx="90.3" cy="302.7" r="12.9" fill="url(#dk)" opacity="1"/><circle cx="160.4" cy="281.5" r="12.9" fill="url(#dk)" opacity="1"/><circle cx="78" cy="262.6" r="14.5" fill="url(#dk)" opacity="0.7"/><circle cx="159.3" cy="318.3" r="11.1" fill="url(#dk)" opacity="0.8"/><circle cx="119.2" cy="283.8" r="15.6" fill="url(#dk)" opacity="0.45"/><circle cx="117" cy="254.8" r="13.4" fill="url(#dk)" opacity="0.4"/><circle cx="81.4" cy="326.1" r="8.9" fill="url(#dk)" opacity="0.5"/><circle cx="148.2" cy="250.4" r="8.9" fill="url(#dk)" opacity="0.4"/><circle cx="123.7" cy="315" r="8.9" fill="url(#dk)" opacity="0.4"/><rect x="69.3" y="238.6" width="99" height="99" filter="url(#gd)" opacity="0.3"/><rect x="69.3" y="238.6" width="99" height="99" filter="url(#gl)" opacity="0.15"/><g fill="#111"><circle cx="79.1" cy="242.6" r="0.85"/><circle cx="90.3" cy="242.6" r="0.85"/><circle cx="122.6" cy="244.8" r="0.85"/><circle cx="150.4" cy="243.7" r="0.85"/><circle cx="110.3" cy="263.3" r="0.85"/><circle cx="112.5" cy="259.3" r="0.7"/><circle cx="139.3" cy="260.4" r="0.85"/><circle cx="159.3" cy="270.4" r="0.85"/><circle cx="140.4" cy="271.5" r="0.85"/><circle cx="140.4" cy="277.1" r="0.85"/><circle cx="115.2" cy="275.3" r="0.85"/><circle cx="71.3" cy="284.9" r="0.85"/><circle cx="83.1" cy="287.1" r="0.85"/><circle cx="99.2" cy="284.9" r="1.1"/><circle cx="134.8" cy="290" r="0.85"/><circle cx="148.6" cy="294.5" r="0.85"/><circle cx="135.9" cy="301.1" r="0.85"/><circle cx="109.2" cy="306" r="0.7"/><circle cx="111.4" cy="310.5" r="0.85"/><circle cx="103.6" cy="318.3" r="0.85"/><circle cx="128.1" cy="316.1" r="0.85"/><circle cx="94.7" cy="308.3" r="0.85"/><circle cx="84.7" cy="325" r="0.85"/><circle cx="135.9" cy="325" r="0.85"/><circle cx="121.5" cy="338.3" r="0.85"/></g></g><rect x="70.25" y="239.50" width="96.50" height="96.25" fill="none" stroke="#1f1512" stroke-width="1.9"/>
<g clip-path="url(#c9)"><rect x="763.1" y="286.7" width="98.2" height="98.2" fill="#7a7a7a"/><rect x="763.1" y="286.7" width="99" height="99" fill="#7d7d7d"/><g fill="#6c6c6c" stroke="#626262" stroke-width="0.4" filter="url(#rg)" opacity="0.8"><path d="M812.6 303C815.4 297.9 814.4 299.3 822.3 298.9C830.2 298.4 827.9 301.2 836.3 301.6C844.6 302.1 840.4 298.4 847.4 300.2C854.4 302.1 852.5 301.6 857.1 307.2C861.8 312.8 861.3 311.4 861.3 316.9C861.3 322.5 861.8 321.1 857.1 323.9C852.5 326.7 853.4 326.2 847.4 325.3C841.4 324.4 845.1 321.6 839 321.1C833 320.7 835.3 324.4 829.3 323.9C823.3 323.4 826 323 820.9 319.7C815.8 316.5 816.8 319.7 814 314.2C811.2 308.6 809.8 308.1 812.6 303Z"/><path d="M859.9 298.9C863.6 295.6 865.5 296.5 873.8 297.5C882.2 298.4 878.5 297.5 885 301.6C891.5 305.8 892.4 304.9 893.3 310C894.3 315.1 892.9 314.2 887.8 316.9C882.7 319.7 884.5 319.3 878 318.3C871.5 317.4 873.4 317.9 868.3 314.2C863.2 310.5 865.5 312.3 862.7 307.2C859.9 302.1 856.2 302.1 859.9 298.9Z"/><path d="M869.7 328.1C872.9 323.4 873.4 324.4 879.4 323.9C885.4 323.4 880.8 327.6 887.8 326.7C894.7 325.8 896.1 306.3 900.3 321.1C904.5 336 902.6 353.6 900.3 371.2C898 388.9 898.9 372.6 893.3 374C887.8 375.4 890.1 376.3 883.6 375.4C877.1 374.5 877.6 375.4 873.8 371.2C870.1 367.1 871.5 368 872.4 362.9C873.4 357.8 878 357.8 876.6 355.9C875.2 354.1 872.9 358.2 868.3 357.3C863.6 356.4 863.6 357.3 862.7 353.1C861.8 349 863.2 349.9 865.5 344.8C867.8 339.7 868.3 343.4 869.7 337.8C871.1 332.3 866.4 332.7 869.7 328.1Z"/><path d="M818.2 335C822.8 328.5 820.9 328.5 829.3 326.7C837.6 324.8 833.9 329 843.2 329.5C852.5 329.9 850.6 325.8 857.1 328.1C863.6 330.4 861.8 330.4 862.7 336.4C863.6 342.5 859.9 340.1 859.9 346.2C859.9 352.2 863.6 348 862.7 354.5C861.8 361 858.1 360.1 857.1 365.7C856.2 371.2 862.7 368.5 859.9 371.2C857.1 374 856.2 374 848.8 374C841.4 374 845.1 374 837.6 371.2C830.2 368.5 833 370.3 826.5 365.7C820 361 821.9 363.8 818.2 357.3C814.4 350.8 815.4 353.6 815.4 346.2C815.4 338.8 813.5 341.5 818.2 335Z"/><path d="M790.3 354.5C795 349.4 794 349 801.5 347.6C808.9 346.2 807.5 346.2 812.6 350.4C817.7 354.5 815.8 354.1 816.8 360.1C817.7 366.1 813.5 363.8 815.4 368.5C817.2 373.1 819.6 369.4 822.3 374C825.1 378.7 826 377.7 823.7 382.4C821.4 387 821.9 386.5 815.4 387.9C808.9 389.3 810.7 387.9 804.2 386.5C797.7 385.2 800.5 387.9 795.9 383.8C791.2 379.6 793.1 381 790.3 374C787.5 367.1 787.5 369.4 787.5 362.9C787.5 356.4 785.7 359.6 790.3 354.5Z"/><path d="M777.8 294.7C787.5 278.4 795.9 290.5 807 294.7C818.2 298.9 810.3 299.3 811.2 307.2C812.1 315.1 809.3 310.9 809.8 318.3C810.3 325.8 813.1 322.5 812.6 329.5C812.1 336.4 813.1 335 808.4 339.2C803.8 343.4 805.6 341.5 798.7 342C791.7 342.5 794.5 340.1 787.5 340.6C780.6 341.1 781 358.7 777.8 343.4C774.5 328.1 768 310.9 777.8 294.7Z"/><path d="M830.7 382.4C835.3 378.7 833.9 378.2 841.8 378.2C849.7 378.2 847.9 379.1 854.4 382.4C860.8 385.6 860.4 383.8 861.3 387.9C862.2 392.1 862.2 391.7 857.1 394.9C852 398.1 853.4 397.7 846 397.7C838.6 397.7 840.9 397.7 834.9 394.9C828.8 392.1 829.3 393.5 827.9 389.3C826.5 385.2 826 386.1 830.7 382.4Z"/><path d="M878 382.4C882.2 378.7 880.3 380.1 887.8 379.6C895.2 379.1 896.1 369.4 900.3 381C904.5 392.6 909.1 403.3 900.3 414.4C891.5 425.5 883.6 417.6 873.8 414.4C864.1 411.1 869.7 409.7 871.1 404.6C872.4 399.5 876.6 403.7 878 399.1C879.4 394.4 875.2 396.3 875.2 390.7C875.2 385.2 873.8 386.1 878 382.4Z"/><path d="M777.8 390.7C782 381.9 783.4 386.5 790.3 387.9C797.3 389.3 794.5 389.3 798.7 394.9C802.8 400.5 801.9 398.1 802.8 404.6C803.8 411.1 809.8 411.1 801.5 414.4C793.1 417.6 785.7 422.3 777.8 414.4C769.9 406.5 773.6 399.5 777.8 390.7Z"/><path d="M807 399.1C812.6 393 812.6 395.8 820.9 396.3C829.3 396.8 822.8 398.6 832.1 400.5C841.4 402.3 839.5 399.5 848.8 401.9C858.1 404.2 855.3 403.3 859.9 407.4C864.6 411.6 881.3 412.1 862.7 414.4C844.1 416.7 822.8 419.5 804.2 414.4C785.7 409.3 801.5 405.1 807 399.1Z"/><path d="M777.8 349C780.6 337.4 783.4 339.2 786.1 350.4C788.9 361.5 788.9 370.8 786.1 382.4C783.4 394 780.6 396.3 777.8 385.2C775 374 775 360.6 777.8 349Z"/></g></g><rect x="764.05" y="287.65" width="96.30" height="96.25" fill="none" stroke="#1f1512" stroke-width="1.9"/>
<g clip-path="url(#c10)"><rect x="743.9" y="277.1" width="98.2" height="98.2" fill="#7a7a7a"/><rect x="743.9" y="277.1" width="99" height="99" fill="#7d7d7d"/><g fill="#6c6c6c" stroke="#626262" stroke-width="0.4" filter="url(#rg)" opacity="0.8"><path d="M769.4 275.4C772.1 270.3 771.2 271.7 779.1 271.2C787 270.8 784.7 273.5 793 274C801.4 274.5 797.2 270.8 804.2 272.6C811.1 274.5 809.3 274 813.9 279.6C818.5 285.1 818.1 283.7 818.1 289.3C818.1 294.9 818.5 293.5 813.9 296.3C809.3 299.1 810.2 298.6 804.2 297.7C798.1 296.7 801.8 294 795.8 293.5C789.8 293 792.1 296.7 786.1 296.3C780 295.8 782.8 295.3 777.7 292.1C772.6 288.9 773.5 292.1 770.7 286.5C768 281 766.6 280.5 769.4 275.4Z"/><path d="M816.7 271.2C820.4 268 822.2 268.9 830.6 269.8C839 270.8 835.2 269.8 841.7 274C848.2 278.2 849.2 277.3 850.1 282.4C851 287.5 849.6 286.5 844.5 289.3C839.4 292.1 841.3 291.6 834.8 290.7C828.3 289.8 830.1 290.2 825 286.5C819.9 282.8 822.2 284.7 819.5 279.6C816.7 274.5 813 274.5 816.7 271.2Z"/><path d="M826.4 300.5C829.7 295.8 830.1 296.7 836.2 296.3C842.2 295.8 837.6 300 844.5 299.1C851.5 298.1 852.9 278.6 857 293.5C861.2 308.3 859.4 326 857 343.6C854.7 361.2 855.7 345 850.1 346.4C844.5 347.8 846.8 348.7 840.3 347.8C833.8 346.9 834.3 347.8 830.6 343.6C826.9 339.4 828.3 340.4 829.2 335.3C830.1 330.1 834.8 330.1 833.4 328.3C832 326.4 829.7 330.6 825 329.7C820.4 328.8 820.4 329.7 819.5 325.5C818.5 321.3 819.9 322.3 822.2 317.2C824.6 312.1 825 315.8 826.4 310.2C827.8 304.6 823.2 305.1 826.4 300.5Z"/><path d="M774.9 307.4C779.6 300.9 777.7 300.9 786.1 299.1C794.4 297.2 790.7 301.4 800 301.8C809.3 302.3 807.4 298.1 813.9 300.5C820.4 302.8 818.5 302.8 819.5 308.8C820.4 314.8 816.7 312.5 816.7 318.5C816.7 324.6 820.4 320.4 819.5 326.9C818.5 333.4 814.8 332.5 813.9 338C813 343.6 819.5 340.8 816.7 343.6C813.9 346.4 813 346.4 805.5 346.4C798.1 346.4 801.8 346.4 794.4 343.6C787 340.8 789.8 342.7 783.3 338C776.8 333.4 778.6 336.2 774.9 329.7C771.2 323.2 772.1 326 772.1 318.5C772.1 311.1 770.3 313.9 774.9 307.4Z"/><path d="M747.1 326.9C751.7 321.8 750.8 321.3 758.2 319.9C765.6 318.5 764.2 318.5 769.4 322.7C774.5 326.9 772.6 326.4 773.5 332.5C774.5 338.5 770.3 336.2 772.1 340.8C774 345.5 776.3 341.7 779.1 346.4C781.9 351 782.8 350.1 780.5 354.7C778.2 359.4 778.6 358.9 772.1 360.3C765.6 361.7 767.5 360.3 761 358.9C754.5 357.5 757.3 360.3 752.6 356.1C748 352 749.9 353.3 747.1 346.4C744.3 339.4 744.3 341.7 744.3 335.3C744.3 328.8 742.4 332 747.1 326.9Z"/><path d="M734.6 267C744.3 250.8 752.6 262.9 763.8 267C774.9 271.2 767 271.7 768 279.6C768.9 287.5 766.1 283.3 766.6 290.7C767 298.1 769.8 294.9 769.4 301.8C768.9 308.8 769.8 307.4 765.2 311.6C760.5 315.8 762.4 313.9 755.4 314.4C748.5 314.8 751.3 312.5 744.3 313C737.3 313.4 737.8 331.1 734.6 315.8C731.3 300.5 724.8 283.3 734.6 267Z"/><path d="M787.4 354.7C792.1 351 790.7 350.6 798.6 350.6C806.5 350.6 804.6 351.5 811.1 354.7C817.6 358 817.1 356.1 818.1 360.3C819 364.5 819 364 813.9 367.3C808.8 370.5 810.2 370.1 802.8 370.1C795.3 370.1 797.7 370.1 791.6 367.3C785.6 364.5 786.1 365.9 784.7 361.7C783.3 357.5 782.8 358.5 787.4 354.7Z"/><path d="M834.8 354.7C839 351 837.1 352.4 844.5 352C851.9 351.5 852.9 341.7 857 353.3C861.2 364.9 865.9 375.6 857 386.8C848.2 397.9 840.3 390 830.6 386.8C820.9 383.5 826.4 382.1 827.8 377C829.2 371.9 833.4 376.1 834.8 371.4C836.2 366.8 832 368.7 832 363.1C832 357.5 830.6 358.5 834.8 354.7Z"/><path d="M734.6 363.1C738.7 354.3 740.1 358.9 747.1 360.3C754 361.7 751.3 361.7 755.4 367.3C759.6 372.8 758.7 370.5 759.6 377C760.5 383.5 766.6 383.5 758.2 386.8C749.9 390 742.4 394.6 734.6 386.8C726.7 378.9 730.4 371.9 734.6 363.1Z"/><path d="M763.8 371.4C769.4 365.4 769.4 368.2 777.7 368.7C786.1 369.1 779.6 371 788.8 372.8C798.1 374.7 796.3 371.9 805.5 374.2C814.8 376.5 812 375.6 816.7 379.8C821.3 384 838 384.4 819.5 386.8C800.9 389.1 779.6 391.9 761 386.8C742.4 381.7 758.2 377.5 763.8 371.4Z"/><path d="M734.6 321.3C737.3 309.7 740.1 311.6 742.9 322.7C745.7 333.9 745.7 343.1 742.9 354.7C740.1 366.3 737.3 368.7 734.6 357.5C731.8 346.4 731.8 332.9 734.6 321.3Z"/></g></g><rect x="744.81" y="278.02" width="96.30" height="96.25" fill="none" stroke="#1f1512" stroke-width="1.9"/>
<g clip-path="url(#c11)"><rect x="724.6" y="267.4" width="98.2" height="98.2" fill="#7a7a7a"/><rect x="724.6" y="267.4" width="99" height="99" fill="#787878"/><g fill="#6c6c6c" stroke="#626262" stroke-width="0.4" filter="url(#rg)" opacity="0.8"><path d="M770.1 291.8C772.9 286.7 772 288.1 779.9 287.6C787.7 287.1 785.4 289.9 793.8 290.4C802.1 290.8 798 287.1 804.9 289C811.9 290.8 810 290.4 814.7 295.9C819.3 301.5 818.8 300.1 818.8 305.7C818.8 311.3 819.3 309.9 814.7 312.6C810 315.4 810.9 315 804.9 314C798.9 313.1 802.6 310.3 796.6 309.9C790.5 309.4 792.8 313.1 786.8 312.6C780.8 312.2 783.6 311.7 778.5 308.5C773.4 305.2 774.3 308.5 771.5 302.9C768.7 297.3 767.3 296.9 770.1 291.8Z"/><path d="M817.4 287.6C821.2 284.3 823 285.3 831.4 286.2C839.7 287.1 836 286.2 842.5 290.4C849 294.6 849.9 293.6 850.8 298.7C851.8 303.8 850.4 302.9 845.3 305.7C840.2 308.5 842 308 835.5 307.1C829 306.2 830.9 306.6 825.8 302.9C820.7 299.2 823 301 820.2 295.9C817.4 290.8 813.7 290.8 817.4 287.6Z"/><path d="M827.2 316.8C830.4 312.2 830.9 313.1 836.9 312.6C843 312.2 838.3 316.4 845.3 315.4C852.2 314.5 853.6 295 857.8 309.9C862 324.7 860.1 342.3 857.8 360C855.5 377.6 856.4 361.4 850.8 362.8C845.3 364.2 847.6 365.1 841.1 364.2C834.6 363.2 835.1 364.2 831.4 360C827.6 355.8 829 356.7 830 351.6C830.9 346.5 835.5 346.5 834.1 344.7C832.8 342.8 830.4 347 825.8 346.1C821.2 345.1 821.2 346.1 820.2 341.9C819.3 337.7 820.7 338.6 823 333.5C825.3 328.4 825.8 332.1 827.2 326.6C828.6 321 823.9 321.5 827.2 316.8Z"/><path d="M775.7 323.8C780.3 317.3 778.5 317.3 786.8 315.4C795.2 313.6 791.5 317.8 800.7 318.2C810 318.7 808.2 314.5 814.7 316.8C821.2 319.1 819.3 319.1 820.2 325.2C821.2 331.2 817.4 328.9 817.4 334.9C817.4 341 821.2 336.8 820.2 343.3C819.3 349.8 815.6 348.8 814.7 354.4C813.7 360 820.2 357.2 817.4 360C814.7 362.8 813.7 362.8 806.3 362.8C798.9 362.8 802.6 362.8 795.2 360C787.7 357.2 790.5 359 784 354.4C777.5 349.8 779.4 352.6 775.7 346.1C772 339.6 772.9 342.3 772.9 334.9C772.9 327.5 771 330.3 775.7 323.8Z"/><path d="M747.8 343.3C752.5 338.2 751.6 337.7 759 336.3C766.4 334.9 765 334.9 770.1 339.1C775.2 343.3 773.4 342.8 774.3 348.8C775.2 354.9 771 352.6 772.9 357.2C774.8 361.8 777.1 358.1 779.9 362.8C782.6 367.4 783.6 366.5 781.2 371.1C778.9 375.8 779.4 375.3 772.9 376.7C766.4 378.1 768.3 376.7 761.8 375.3C755.3 373.9 758 376.7 753.4 372.5C748.8 368.3 750.6 369.7 747.8 362.8C745.1 355.8 745.1 358.1 745.1 351.6C745.1 345.1 743.2 348.4 747.8 343.3Z"/><path d="M735.3 283.4C745.1 267.2 753.4 279.2 764.5 283.4C775.7 287.6 767.8 288.1 768.7 295.9C769.6 303.8 766.9 299.7 767.3 307.1C767.8 314.5 770.6 311.3 770.1 318.2C769.6 325.2 770.6 323.8 765.9 328C761.3 332.1 763.2 330.3 756.2 330.7C749.2 331.2 752 328.9 745.1 329.4C738.1 329.8 738.6 347.4 735.3 332.1C732.1 316.8 725.6 299.7 735.3 283.4Z"/><path d="M788.2 371.1C792.8 367.4 791.5 366.9 799.3 366.9C807.2 366.9 805.4 367.9 811.9 371.1C818.4 374.4 817.9 372.5 818.8 376.7C819.8 380.9 819.8 380.4 814.7 383.6C809.6 386.9 810.9 386.4 803.5 386.4C796.1 386.4 798.4 386.4 792.4 383.6C786.4 380.9 786.8 382.2 785.4 378.1C784 373.9 783.6 374.8 788.2 371.1Z"/><path d="M835.5 371.1C839.7 367.4 837.9 368.8 845.3 368.3C852.7 367.9 853.6 358.1 857.8 369.7C862 381.3 866.6 392 857.8 403.1C849 414.3 841.1 406.4 831.4 403.1C821.6 399.9 827.2 398.5 828.6 393.4C830 388.3 834.1 392.5 835.5 387.8C836.9 383.2 832.8 385 832.8 379.5C832.8 373.9 831.4 374.8 835.5 371.1Z"/><path d="M735.3 379.5C739.5 370.6 740.9 375.3 747.8 376.7C754.8 378.1 752 378.1 756.2 383.6C760.4 389.2 759.4 386.9 760.4 393.4C761.3 399.9 767.3 399.9 759 403.1C750.6 406.4 743.2 411 735.3 403.1C727.4 395.2 731.1 388.3 735.3 379.5Z"/><path d="M764.5 387.8C770.1 381.8 770.1 384.6 778.5 385C786.8 385.5 780.3 387.4 789.6 389.2C798.9 391.1 797 388.3 806.3 390.6C815.6 392.9 812.8 392 817.4 396.2C822.1 400.3 838.8 400.8 820.2 403.1C801.7 405.4 780.3 408.2 761.8 403.1C743.2 398 759 393.8 764.5 387.8Z"/><path d="M735.3 337.7C738.1 326.1 740.9 328 743.7 339.1C746.4 350.2 746.4 359.5 743.7 371.1C740.9 382.7 738.1 385 735.3 373.9C732.5 362.8 732.5 349.3 735.3 337.7Z"/></g><g fill="#cecece"><ellipse cx="814.3" cy="354.3" rx="5.6" ry="6.8"/><path d="M803.5 269h5.2c.6 2.5-.2 5-1.6 6.6l-3.6.6z"/><ellipse cx="732.5" cy="359" rx="6.2" ry="2.6"/><ellipse cx="755.5" cy="358.3" rx="7.5" ry="3"/><ellipse cx="776.8" cy="357.6" rx="4.6" ry="2.3"/><ellipse cx="781.5" cy="364.6" rx="2" ry="1.2"/></g></g><rect x="725.57" y="268.39" width="96.30" height="96.25" fill="none" stroke="#1f1512" stroke-width="1.9"/>
<g clip-path="url(#c12)"><rect x="705.4" y="257.8" width="98.2" height="98.2" fill="#7a7a7a"/><rect x="705.4" y="257.8" width="99" height="99" fill="#7b7b7b"/><g fill="#6c6c6c" stroke="#626262" stroke-width="0.4" filter="url(#rg)" opacity="0.25"><path d="M723.9 277.1C726.7 272 725.7 273.4 733.6 273C741.5 272.5 739.2 275.3 747.5 275.7C755.9 276.2 751.7 272.5 758.7 274.4C765.6 276.2 763.8 275.7 768.4 281.3C773.1 286.9 772.6 285.5 772.6 291.1C772.6 296.6 773.1 295.2 768.4 298C763.8 300.8 764.7 300.3 758.7 299.4C752.6 298.5 756.4 295.7 750.3 295.2C744.3 294.8 746.6 298.5 740.6 298C734.5 297.6 737.3 297.1 732.2 293.8C727.1 290.6 728 293.8 725.3 288.3C722.5 282.7 721.1 282.2 723.9 277.1Z"/><path d="M771.2 273C774.9 269.7 776.8 270.6 785.1 271.6C793.5 272.5 789.8 271.6 796.3 275.7C802.8 279.9 803.7 279 804.6 284.1C805.5 289.2 804.1 288.3 799 291.1C793.9 293.8 795.8 293.4 789.3 292.4C782.8 291.5 784.7 292 779.6 288.3C774.4 284.6 776.8 286.4 774 281.3C771.2 276.2 767.5 276.2 771.2 273Z"/><path d="M780.9 302.2C784.2 297.6 784.7 298.5 790.7 298C796.7 297.6 792.1 301.7 799 300.8C806 299.9 807.4 280.4 811.6 295.2C815.7 310.1 813.9 327.7 811.6 345.3C809.2 363 810.2 346.7 804.6 348.1C799 349.5 801.4 350.4 794.9 349.5C788.4 348.6 788.8 349.5 785.1 345.3C781.4 341.2 782.8 342.1 783.7 337C784.7 331.9 789.3 331.9 787.9 330C786.5 328.2 784.2 332.4 779.6 331.4C774.9 330.5 774.9 331.4 774 327.2C773.1 323.1 774.4 324 776.8 318.9C779.1 313.8 779.6 317.5 780.9 311.9C782.3 306.4 777.7 306.8 780.9 302.2Z"/><path d="M729.4 309.2C734.1 302.7 732.2 302.7 740.6 300.8C748.9 298.9 745.2 303.1 754.5 303.6C763.8 304 761.9 299.9 768.4 302.2C774.9 304.5 773.1 304.5 774 310.5C774.9 316.6 771.2 314.3 771.2 320.3C771.2 326.3 774.9 322.1 774 328.6C773.1 335.1 769.3 334.2 768.4 339.8C767.5 345.3 774 342.6 771.2 345.3C768.4 348.1 767.5 348.1 760.1 348.1C752.6 348.1 756.4 348.1 748.9 345.3C741.5 342.6 744.3 344.4 737.8 339.8C731.3 335.1 733.2 337.9 729.4 331.4C725.7 324.9 726.7 327.7 726.7 320.3C726.7 312.9 724.8 315.6 729.4 309.2Z"/><path d="M701.6 328.6C706.2 323.5 705.3 323.1 712.7 321.7C720.2 320.3 718.8 320.3 723.9 324.5C729 328.6 727.1 328.2 728 334.2C729 340.2 724.8 337.9 726.7 342.6C728.5 347.2 730.8 343.5 733.6 348.1C736.4 352.8 737.3 351.8 735 356.5C732.7 361.1 733.2 360.7 726.7 362C720.2 363.4 722 362 715.5 360.7C709 359.3 711.8 362 707.2 357.9C702.5 353.7 704.4 355.1 701.6 348.1C698.8 341.2 698.8 343.5 698.8 337C698.8 330.5 697 333.7 701.6 328.6Z"/><path d="M689.1 268.8C698.8 252.5 707.2 264.6 718.3 268.8C729.4 273 721.6 273.4 722.5 281.3C723.4 289.2 720.6 285 721.1 292.4C721.6 299.9 724.3 296.6 723.9 303.6C723.4 310.5 724.3 309.2 719.7 313.3C715.1 317.5 716.9 315.6 710 316.1C703 316.6 705.8 314.3 698.8 314.7C691.9 315.2 692.3 332.8 689.1 317.5C685.8 302.2 679.3 285 689.1 268.8Z"/><path d="M742 356.5C746.6 352.8 745.2 352.3 753.1 352.3C761 352.3 759.1 353.2 765.6 356.5C772.1 359.7 771.7 357.9 772.6 362C773.5 366.2 773.5 365.8 768.4 369C763.3 372.3 764.7 371.8 757.3 371.8C749.9 371.8 752.2 371.8 746.1 369C740.1 366.2 740.6 367.6 739.2 363.4C737.8 359.3 737.3 360.2 742 356.5Z"/><path d="M789.3 356.5C793.5 352.8 791.6 354.2 799 353.7C806.5 353.2 807.4 343.5 811.6 355.1C815.7 366.7 820.4 377.4 811.6 388.5C802.8 399.6 794.9 391.7 785.1 388.5C775.4 385.2 780.9 383.9 782.3 378.8C783.7 373.6 787.9 377.8 789.3 373.2C790.7 368.5 786.5 370.4 786.5 364.8C786.5 359.3 785.1 360.2 789.3 356.5Z"/><path d="M689.1 364.8C693.2 356 694.6 360.7 701.6 362C708.6 363.4 705.8 363.4 710 369C714.1 374.6 713.2 372.3 714.1 378.8C715.1 385.2 721.1 385.2 712.7 388.5C704.4 391.7 697 396.4 689.1 388.5C681.2 380.6 684.9 373.6 689.1 364.8Z"/><path d="M718.3 373.2C723.9 367.2 723.9 369.9 732.2 370.4C740.6 370.9 734.1 372.7 743.4 374.6C752.6 376.4 750.8 373.6 760.1 376C769.3 378.3 766.6 377.4 771.2 381.5C775.8 385.7 792.5 386.2 774 388.5C755.4 390.8 734.1 393.6 715.5 388.5C697 383.4 712.7 379.2 718.3 373.2Z"/><path d="M689.1 323.1C691.9 311.5 694.6 313.3 697.4 324.5C700.2 335.6 700.2 344.9 697.4 356.5C694.6 368.1 691.9 370.4 689.1 359.3C686.3 348.1 686.3 334.7 689.1 323.1Z"/></g></g><rect x="706.33" y="258.76" width="96.30" height="96.25" fill="none" stroke="#1f1512" stroke-width="1.9"/>
<g clip-path="url(#c13)"><rect x="686.1" y="248.2" width="98.2" height="98.2" fill="#7a7a7a"/><rect x="686.1" y="248.2" width="99" height="99" fill="#7c7c7c"/><g fill="#6c6c6c" stroke="#626262" stroke-width="0.4" filter="url(#rg)" opacity="0.8"><path d="M727.6 253.5C730.4 248.4 729.5 249.8 737.4 249.3C745.3 248.9 742.9 251.7 751.3 252.1C759.6 252.6 755.5 248.9 762.4 250.7C769.4 252.6 767.5 252.1 772.2 257.7C776.8 263.3 776.4 261.9 776.4 267.4C776.4 273 776.8 271.6 772.2 274.4C767.5 277.2 768.5 276.7 762.4 275.8C756.4 274.9 760.1 272.1 754.1 271.6C748 271.1 750.4 274.9 744.3 274.4C738.3 273.9 741.1 273.5 736 270.2C730.9 267 731.8 270.2 729 264.6C726.2 259.1 724.8 258.6 727.6 253.5Z"/><path d="M775 249.3C778.7 246.1 780.5 247 788.9 247.9C797.2 248.9 793.5 247.9 800 252.1C806.5 256.3 807.4 255.4 808.4 260.5C809.3 265.6 807.9 264.6 802.8 267.4C797.7 270.2 799.6 269.7 793.1 268.8C786.6 267.9 788.4 268.4 783.3 264.6C778.2 260.9 780.5 262.8 777.7 257.7C775 252.6 771.2 252.6 775 249.3Z"/><path d="M784.7 278.6C788 273.9 788.4 274.9 794.4 274.4C800.5 273.9 795.8 278.1 802.8 277.2C809.8 276.2 811.2 256.8 815.3 271.6C819.5 286.5 817.6 304.1 815.3 321.7C813 339.3 813.9 323.1 808.4 324.5C802.8 325.9 805.1 326.8 798.6 325.9C792.1 325 792.6 325.9 788.9 321.7C785.2 317.5 786.6 318.5 787.5 313.4C788.4 308.3 793.1 308.3 791.7 306.4C790.3 304.5 788 308.7 783.3 307.8C778.7 306.9 778.7 307.8 777.7 303.6C776.8 299.4 778.2 300.4 780.5 295.3C782.8 290.2 783.3 293.9 784.7 288.3C786.1 282.7 781.5 283.2 784.7 278.6Z"/><path d="M733.2 285.5C737.8 279 736 279 744.3 277.2C752.7 275.3 749 279.5 758.3 280C767.5 280.4 765.7 276.2 772.2 278.6C778.7 280.9 776.8 280.9 777.7 286.9C778.7 292.9 775 290.6 775 296.7C775 302.7 778.7 298.5 777.7 305C776.8 311.5 773.1 310.6 772.2 316.1C771.2 321.7 777.7 318.9 775 321.7C772.2 324.5 771.2 324.5 763.8 324.5C756.4 324.5 760.1 324.5 752.7 321.7C745.3 318.9 748 320.8 741.6 316.1C735.1 311.5 736.9 314.3 733.2 307.8C729.5 301.3 730.4 304.1 730.4 296.7C730.4 289.2 728.6 292 733.2 285.5Z"/><path d="M705.4 305C710 299.9 709.1 299.4 716.5 298.1C723.9 296.7 722.5 296.7 727.6 300.8C732.7 305 730.9 304.5 731.8 310.6C732.7 316.6 728.6 314.3 730.4 318.9C732.3 323.6 734.6 319.9 737.4 324.5C740.2 329.1 741.1 328.2 738.8 332.9C736.4 337.5 736.9 337 730.4 338.4C723.9 339.8 725.8 338.4 719.3 337C712.8 335.6 715.6 338.4 710.9 334.2C706.3 330.1 708.1 331.5 705.4 324.5C702.6 317.5 702.6 319.9 702.6 313.4C702.6 306.9 700.7 310.1 705.4 305Z"/><path d="M692.8 245.2C702.6 228.9 710.9 241 722.1 245.2C733.2 249.3 725.3 249.8 726.2 257.7C727.2 265.6 724.4 261.4 724.8 268.8C725.3 276.2 728.1 273 727.6 280C727.2 286.9 728.1 285.5 723.5 289.7C718.8 293.9 720.7 292 713.7 292.5C706.8 292.9 709.5 290.6 702.6 291.1C695.6 291.6 696.1 309.2 692.8 293.9C689.6 278.6 683.1 261.4 692.8 245.2Z"/><path d="M745.7 332.9C750.4 329.1 749 328.7 756.9 328.7C764.8 328.7 762.9 329.6 769.4 332.9C775.9 336.1 775.4 334.2 776.4 338.4C777.3 342.6 777.3 342.1 772.2 345.4C767.1 348.6 768.5 348.2 761 348.2C753.6 348.2 755.9 348.2 749.9 345.4C743.9 342.6 744.3 344 742.9 339.8C741.6 335.6 741.1 336.6 745.7 332.9Z"/><path d="M793.1 332.9C797.2 329.1 795.4 330.5 802.8 330.1C810.2 329.6 811.2 319.9 815.3 331.5C819.5 343.1 824.1 353.7 815.3 364.9C806.5 376 798.6 368.1 788.9 364.9C779.1 361.6 784.7 360.2 786.1 355.1C787.5 350 791.7 354.2 793.1 349.6C794.4 344.9 790.3 346.8 790.3 341.2C790.3 335.6 788.9 336.6 793.1 332.9Z"/><path d="M692.8 341.2C697 332.4 698.4 337 705.4 338.4C712.3 339.8 709.5 339.8 713.7 345.4C717.9 350.9 717 348.6 717.9 355.1C718.8 361.6 724.8 361.6 716.5 364.9C708.1 368.1 700.7 372.8 692.8 364.9C684.9 357 688.7 350 692.8 341.2Z"/><path d="M722.1 349.6C727.6 343.5 727.6 346.3 736 346.8C744.3 347.2 737.8 349.1 747.1 350.9C756.4 352.8 754.5 350 763.8 352.3C773.1 354.7 770.3 353.7 775 357.9C779.6 362.1 796.3 362.5 777.7 364.9C759.2 367.2 737.8 370 719.3 364.9C700.7 359.8 716.5 355.6 722.1 349.6Z"/><path d="M692.8 299.4C695.6 287.8 698.4 289.7 701.2 300.8C704 312 704 321.3 701.2 332.9C698.4 344.5 695.6 346.8 692.8 335.6C690 324.5 690 311 692.8 299.4Z"/></g><g fill="#111"><circle cx="770.8" cy="253.7" r="1.0"/><circle cx="770.3" cy="256.2" r="0.6"/><circle cx="774.3" cy="310.2" r="0.5"/></g><g fill="#cecece"><ellipse cx="765.9" cy="281.2" rx="1.6" ry="4"/><ellipse cx="765.9" cy="318.2" rx="1.6" ry="1.6"/></g></g><rect x="687.09" y="249.13" width="96.30" height="96.25" fill="none" stroke="#1f1512" stroke-width="1.9"/>
<g clip-path="url(#c14)"><rect x="666.9" y="238.6" width="98.2" height="98.2" fill="#828282"/><g filter="url(#rg4)"><g fill="#6f6f6f" stroke="#646464" stroke-width="2.8"><path d="M694.5 247C696.7 242.9 695.9 244.1 702.2 243.7C708.6 243.3 706.7 245.5 713.4 245.9C720.1 246.3 716.7 243.3 722.3 244.8C727.9 246.3 726.4 245.9 730.1 250.4C733.8 254.8 733.4 253.7 733.4 258.2C733.4 262.6 733.8 261.5 730.1 263.7C726.4 266 727.1 265.6 722.3 264.8C717.5 264.1 720.4 261.9 715.6 261.5C710.8 261.1 712.6 264.1 707.8 263.7C703 263.4 705.2 263 701.1 260.4C697.1 257.8 697.8 260.4 695.6 255.9C693.3 251.5 692.2 251.1 694.5 247Z"/><path d="M732.3 243.7C735.3 241.1 736.8 241.8 743.5 242.6C750.1 243.3 747.2 242.6 752.4 245.9C757.6 249.2 758.3 248.5 759 252.6C759.8 256.7 758.7 255.9 754.6 258.2C750.5 260.4 752 260 746.8 259.3C741.6 258.5 743.1 258.9 739 255.9C734.9 253 736.8 254.4 734.5 250.4C732.3 246.3 729.3 246.3 732.3 243.7Z"/><path d="M740.1 267.1C742.7 263.4 743.1 264.1 747.9 263.7C752.7 263.4 749 266.7 754.6 266C760.2 265.2 761.3 249.6 764.6 261.5C767.9 273.4 766.5 287.5 764.6 301.6C762.8 315.7 763.5 302.7 759 303.8C754.6 304.9 756.4 305.7 751.2 304.9C746 304.2 746.4 304.9 743.5 301.6C740.5 298.2 741.6 299 742.3 294.9C743.1 290.8 746.8 290.8 745.7 289.3C744.6 287.9 742.7 291.2 739 290.5C735.3 289.7 735.3 290.5 734.5 287.1C733.8 283.8 734.9 284.5 736.8 280.4C738.6 276.3 739 279.3 740.1 274.9C741.2 270.4 737.5 270.8 740.1 267.1Z"/><path d="M698.9 272.6C702.6 267.4 701.1 267.4 707.8 266C714.5 264.5 711.5 267.8 719 268.2C726.4 268.6 724.9 265.2 730.1 267.1C735.3 268.9 733.8 268.9 734.5 273.7C735.3 278.6 732.3 276.7 732.3 281.5C732.3 286.4 735.3 283 734.5 288.2C733.8 293.4 730.8 292.7 730.1 297.1C729.3 301.6 734.5 299.4 732.3 301.6C730.1 303.8 729.3 303.8 723.4 303.8C717.5 303.8 720.4 303.8 714.5 301.6C708.6 299.4 710.8 300.8 705.6 297.1C700.4 293.4 701.9 295.6 698.9 290.5C695.9 285.3 696.7 287.5 696.7 281.5C696.7 275.6 695.2 277.8 698.9 272.6Z"/><path d="M676.6 288.2C680.3 284.1 679.6 283.8 685.5 282.7C691.5 281.5 690.4 281.5 694.5 284.9C698.5 288.2 697.1 287.9 697.8 292.7C698.5 297.5 695.2 295.6 696.7 299.4C698.2 303.1 700 300.1 702.2 303.8C704.5 307.5 705.2 306.8 703.4 310.5C701.5 314.2 701.9 313.8 696.7 315C691.5 316.1 693 315 687.8 313.8C682.6 312.7 684.8 315 681.1 311.6C677.4 308.3 678.9 309.4 676.6 303.8C674.4 298.2 674.4 300.1 674.4 294.9C674.4 289.7 672.9 292.3 676.6 288.2Z"/><path d="M666.6 240.3C674.4 227.3 681.1 237 690 240.3C698.9 243.7 692.6 244.1 693.3 250.4C694.1 256.7 691.9 253.3 692.2 259.3C692.6 265.2 694.8 262.6 694.5 268.2C694.1 273.7 694.8 272.6 691.1 276C687.4 279.3 688.9 277.8 683.3 278.2C677.7 278.6 680 276.7 674.4 277.1C668.8 277.5 669.2 291.6 666.6 279.3C664 267.1 658.8 253.3 666.6 240.3Z"/><path d="M708.9 310.5C712.6 307.5 711.5 307.2 717.8 307.2C724.1 307.2 722.7 307.9 727.9 310.5C733.1 313.1 732.7 311.6 733.4 315C734.2 318.3 734.2 317.9 730.1 320.5C726 323.1 727.1 322.7 721.2 322.7C715.2 322.7 717.1 322.7 712.3 320.5C707.4 318.3 707.8 319.4 706.7 316.1C705.6 312.7 705.2 313.5 708.9 310.5Z"/><path d="M746.8 310.5C750.1 307.5 748.6 308.6 754.6 308.3C760.5 307.9 761.3 300.1 764.6 309.4C767.9 318.7 771.7 327.2 764.6 336.1C757.6 345 751.2 338.7 743.5 336.1C735.7 333.5 740.1 332.4 741.2 328.3C742.3 324.2 745.7 327.6 746.8 323.9C747.9 320.1 744.6 321.6 744.6 317.2C744.6 312.7 743.5 313.5 746.8 310.5Z"/><path d="M666.6 317.2C670 310.1 671.1 313.8 676.6 315C682.2 316.1 680 316.1 683.3 320.5C686.7 325 685.9 323.1 686.7 328.3C687.4 333.5 692.2 333.5 685.5 336.1C678.9 338.7 672.9 342.4 666.6 336.1C660.3 329.8 663.3 324.2 666.6 317.2Z"/><path d="M690 323.9C694.5 319 694.5 321.3 701.1 321.6C707.8 322 702.6 323.5 710 325C717.5 326.5 716 324.2 723.4 326.1C730.8 327.9 728.6 327.2 732.3 330.5C736 333.9 749.4 334.3 734.5 336.1C719.7 338 702.6 340.2 687.8 336.1C672.9 332 685.5 328.7 690 323.9Z"/><path d="M666.6 283.8C668.8 274.5 671.1 276 673.3 284.9C675.5 293.8 675.5 301.2 673.3 310.5C671.1 319.8 668.8 321.6 666.6 312.7C664.4 303.8 664.4 293.1 666.6 283.8Z"/></g><g fill="#6f6f6f" stroke="#6f6f6f" stroke-width="1.8"><path d="M694.5 247C696.7 242.9 695.9 244.1 702.2 243.7C708.6 243.3 706.7 245.5 713.4 245.9C720.1 246.3 716.7 243.3 722.3 244.8C727.9 246.3 726.4 245.9 730.1 250.4C733.8 254.8 733.4 253.7 733.4 258.2C733.4 262.6 733.8 261.5 730.1 263.7C726.4 266 727.1 265.6 722.3 264.8C717.5 264.1 720.4 261.9 715.6 261.5C710.8 261.1 712.6 264.1 707.8 263.7C703 263.4 705.2 263 701.1 260.4C697.1 257.8 697.8 260.4 695.6 255.9C693.3 251.5 692.2 251.1 694.5 247Z"/><path d="M732.3 243.7C735.3 241.1 736.8 241.8 743.5 242.6C750.1 243.3 747.2 242.6 752.4 245.9C757.6 249.2 758.3 248.5 759 252.6C759.8 256.7 758.7 255.9 754.6 258.2C750.5 260.4 752 260 746.8 259.3C741.6 258.5 743.1 258.9 739 255.9C734.9 253 736.8 254.4 734.5 250.4C732.3 246.3 729.3 246.3 732.3 243.7Z"/><path d="M740.1 267.1C742.7 263.4 743.1 264.1 747.9 263.7C752.7 263.4 749 266.7 754.6 266C760.2 265.2 761.3 249.6 764.6 261.5C767.9 273.4 766.5 287.5 764.6 301.6C762.8 315.7 763.5 302.7 759 303.8C754.6 304.9 756.4 305.7 751.2 304.9C746 304.2 746.4 304.9 743.5 301.6C740.5 298.2 741.6 299 742.3 294.9C743.1 290.8 746.8 290.8 745.7 289.3C744.6 287.9 742.7 291.2 739 290.5C735.3 289.7 735.3 290.5 734.5 287.1C733.8 283.8 734.9 284.5 736.8 280.4C738.6 276.3 739 279.3 740.1 274.9C741.2 270.4 737.5 270.8 740.1 267.1Z"/><path d="M698.9 272.6C702.6 267.4 701.1 267.4 707.8 266C714.5 264.5 711.5 267.8 719 268.2C726.4 268.6 724.9 265.2 730.1 267.1C735.3 268.9 733.8 268.9 734.5 273.7C735.3 278.6 732.3 276.7 732.3 281.5C732.3 286.4 735.3 283 734.5 288.2C733.8 293.4 730.8 292.7 730.1 297.1C729.3 301.6 734.5 299.4 732.3 301.6C730.1 303.8 729.3 303.8 723.4 303.8C717.5 303.8 720.4 303.8 714.5 301.6C708.6 299.4 710.8 300.8 705.6 297.1C700.4 293.4 701.9 295.6 698.9 290.5C695.9 285.3 696.7 287.5 696.7 281.5C696.7 275.6 695.2 277.8 698.9 272.6Z"/><path d="M676.6 288.2C680.3 284.1 679.6 283.8 685.5 282.7C691.5 281.5 690.4 281.5 694.5 284.9C698.5 288.2 697.1 287.9 697.8 292.7C698.5 297.5 695.2 295.6 696.7 299.4C698.2 303.1 700 300.1 702.2 303.8C704.5 307.5 705.2 306.8 703.4 310.5C701.5 314.2 701.9 313.8 696.7 315C691.5 316.1 693 315 687.8 313.8C682.6 312.7 684.8 315 681.1 311.6C677.4 308.3 678.9 309.4 676.6 303.8C674.4 298.2 674.4 300.1 674.4 294.9C674.4 289.7 672.9 292.3 676.6 288.2Z"/><path d="M666.6 240.3C674.4 227.3 681.1 237 690 240.3C698.9 243.7 692.6 244.1 693.3 250.4C694.1 256.7 691.9 253.3 692.2 259.3C692.6 265.2 694.8 262.6 694.5 268.2C694.1 273.7 694.8 272.6 691.1 276C687.4 279.3 688.9 277.8 683.3 278.2C677.7 278.6 680 276.7 674.4 277.1C668.8 277.5 669.2 291.6 666.6 279.3C664 267.1 658.8 253.3 666.6 240.3Z"/><path d="M708.9 310.5C712.6 307.5 711.5 307.2 717.8 307.2C724.1 307.2 722.7 307.9 727.9 310.5C733.1 313.1 732.7 311.6 733.4 315C734.2 318.3 734.2 317.9 730.1 320.5C726 323.1 727.1 322.7 721.2 322.7C715.2 322.7 717.1 322.7 712.3 320.5C707.4 318.3 707.8 319.4 706.7 316.1C705.6 312.7 705.2 313.5 708.9 310.5Z"/><path d="M746.8 310.5C750.1 307.5 748.6 308.6 754.6 308.3C760.5 307.9 761.3 300.1 764.6 309.4C767.9 318.7 771.7 327.2 764.6 336.1C757.6 345 751.2 338.7 743.5 336.1C735.7 333.5 740.1 332.4 741.2 328.3C742.3 324.2 745.7 327.6 746.8 323.9C747.9 320.1 744.6 321.6 744.6 317.2C744.6 312.7 743.5 313.5 746.8 310.5Z"/><path d="M666.6 317.2C670 310.1 671.1 313.8 676.6 315C682.2 316.1 680 316.1 683.3 320.5C686.7 325 685.9 323.1 686.7 328.3C687.4 333.5 692.2 333.5 685.5 336.1C678.9 338.7 672.9 342.4 666.6 336.1C660.3 329.8 663.3 324.2 666.6 317.2Z"/><path d="M690 323.9C694.5 319 694.5 321.3 701.1 321.6C707.8 322 702.6 323.5 710 325C717.5 326.5 716 324.2 723.4 326.1C730.8 327.9 728.6 327.2 732.3 330.5C736 333.9 749.4 334.3 734.5 336.1C719.7 338 702.6 340.2 687.8 336.1C672.9 332 685.5 328.7 690 323.9Z"/><path d="M666.6 283.8C668.8 274.5 671.1 276 673.3 284.9C675.5 293.8 675.5 301.2 673.3 310.5C671.1 319.8 668.8 321.6 666.6 312.7C664.4 303.8 664.4 293.1 666.6 283.8Z"/></g></g><g fill="#cdcdcd" filter="url(#rg2)"><path d="M687.3 291.1C688.8 290.4 689.2 290.7 689.5 293.1C689.8 295.5 688.3 294.8 688.2 298.2C688 301.7 689.7 300.2 689.1 303.4C688.4 306.6 688.8 306.6 686.2 307.8C683.5 309 683.1 308.6 681 306.9C679 305.3 679.3 305.3 679.9 302.9C680.5 300.5 681.1 302.3 682.8 299.8C684.5 297.3 683.6 298.2 685 295.4C686.5 292.5 685.8 291.9 687.3 291.1Z"/><path d="M691.3 304.7C692.5 303.4 693.5 303.7 695.7 304.3C698 304.9 698 304.9 698 306.5C698 308 697.7 308.4 695.7 308.9C693.7 309.5 693.4 309.5 691.9 308C690.5 306.6 690 306 691.3 304.7Z"/><path d="M753.4 276.6C755.3 274.3 755.3 275.2 758.5 275.5C761.7 275.8 761.5 273.2 763 277.5C764.5 281.9 764.1 285.3 763 288.7C761.9 292.1 761.5 287 759.7 287.8C757.8 288.5 759.1 290.5 757.4 290.9C755.7 291.3 756.1 291.6 754.5 288.9C753 286.1 753.1 286.7 752.8 282.7C752.4 278.6 751.5 279 753.4 276.6Z"/><path d="M754.5 315.2C757.1 313.7 760.2 313.7 763 315C765.8 316.2 765.5 317.5 763 319C760.5 320.4 758.2 320.7 755.4 319.4C752.6 318.1 752 316.7 754.5 315.2Z"/></g><g fill="#111"><circle cx="709.5" cy="253" r="1.1"/><circle cx="712.9" cy="251.5" r="0.85"/><circle cx="718.5" cy="250.4" r="1.1"/><circle cx="720.7" cy="244.8" r="0.7"/><circle cx="741.8" cy="257" r="0.85"/><circle cx="712.2" cy="275.3" r="0.85"/><circle cx="714.4" cy="282.7" r="0.7"/><circle cx="756.3" cy="270.4" r="0.85"/><circle cx="720.2" cy="308.3" r="0.7"/><circle cx="689.9" cy="308.7" r="0.7"/><circle cx="681" cy="326.1" r="0.6"/><circle cx="694" cy="328.3" r="0.6"/><circle cx="750.7" cy="333.9" r="0.6"/></g></g><rect x="667.85" y="239.50" width="96.30" height="96.25" fill="none" stroke="#1f1512" stroke-width="1.9"/>
<g fill="none" stroke="#a0a0a0" stroke-width="1.9" stroke-linecap="round">
<line x1="441" y1="263.6" x2="463.1" y2="263.6" stroke-width="1.4"/>
<line x1="470.4" y1="263.6" x2="498.7" y2="277.6"/>
<line x1="470.4" y1="263.6" x2="498.7" y2="306.6"/>
<line x1="470.4" y1="263.6" x2="498.7" y2="335.2"/>
<line x1="441" y1="292.3" x2="463.1" y2="292.3" stroke-width="1.4"/>
<line x1="470.4" y1="292.3" x2="498.7" y2="277.6"/>
<line x1="470.4" y1="292.3" x2="498.7" y2="306.6"/>
<line x1="470.4" y1="292.3" x2="498.7" y2="335.2"/>
<line x1="441" y1="321.2" x2="463.1" y2="321.2" stroke-width="1.4"/>
<line x1="470.4" y1="321.2" x2="498.7" y2="277.6"/>
<line x1="470.4" y1="321.2" x2="498.7" y2="306.6"/>
<line x1="470.4" y1="321.2" x2="498.7" y2="335.2"/>
<line x1="441" y1="349.9" x2="463.1" y2="349.9" stroke-width="1.4"/>
<line x1="470.4" y1="349.9" x2="498.7" y2="277.6"/>
<line x1="470.4" y1="349.9" x2="498.7" y2="306.6"/>
<line x1="470.4" y1="349.9" x2="498.7" y2="335.2"/>
<line x1="513.3" y1="277.6" x2="528" y2="277.6"/>
<line x1="542.6" y1="277.6" x2="571.2" y2="277.6"/>
<line x1="513.3" y1="277.6" x2="528" y2="306.6"/>
<line x1="542.6" y1="277.6" x2="571.2" y2="306.6"/>
<line x1="513.3" y1="277.6" x2="528" y2="335.2"/>
<line x1="542.6" y1="277.6" x2="571.2" y2="335.2"/>
<line x1="578.5" y1="277.6" x2="600" y2="277.6" stroke-width="1.4"/>
<line x1="513.3" y1="306.6" x2="528" y2="277.6"/>
<line x1="542.6" y1="306.6" x2="571.2" y2="277.6"/>
<line x1="513.3" y1="306.6" x2="528" y2="306.6"/>
<line x1="542.6" y1="306.6" x2="571.2" y2="306.6"/>
<line x1="513.3" y1="306.6" x2="528" y2="335.2"/>
<line x1="542.6" y1="306.6" x2="571.2" y2="335.2"/>
<line x1="578.5" y1="306.6" x2="600" y2="306.6" stroke-width="1.4"/>
<line x1="513.3" y1="335.2" x2="528" y2="277.6"/>
<line x1="542.6" y1="335.2" x2="571.2" y2="277.6"/>
<line x1="513.3" y1="335.2" x2="528" y2="306.6"/>
<line x1="542.6" y1="335.2" x2="571.2" y2="306.6"/>
<line x1="513.3" y1="335.2" x2="528" y2="335.2"/>
<line x1="542.6" y1="335.2" x2="571.2" y2="335.2"/>
<line x1="578.5" y1="335.2" x2="600" y2="335.2" stroke-width="1.4"/>
</g>
<rect x="484.6" y="259" width="77.55" height="96.1" fill="none" stroke="#9e9e9f" stroke-width="3.4" stroke-linejoin="round"/>
<rect x="427.15" y="249.65" width="13.5" height="115" fill="none" stroke="#a4a4a4" stroke-width="1.5" stroke-linejoin="round"/>
<rect x="600.25" y="249.65" width="14.5" height="115" fill="none" stroke="#a4a4a4" stroke-width="1.5" stroke-linejoin="round"/>
<circle cx="465.2" cy="266.1" r="7.2" fill="#000" opacity="0.45" filter="url(#sh)"/><circle cx="463.1" cy="263.6" r="7.4" fill="#fff" stroke="#bdbdbd" stroke-width="0.5"/><circle cx="463.1" cy="263.6" r="6.3" fill="#d6d6d6"/>
<circle cx="465.2" cy="294.8" r="7.2" fill="#000" opacity="0.45" filter="url(#sh)"/><circle cx="463.1" cy="292.3" r="7.4" fill="#fff" stroke="#bdbdbd" stroke-width="0.5"/><circle cx="463.1" cy="292.3" r="6.3" fill="#d6d6d6"/>
<circle cx="465.2" cy="323.7" r="7.2" fill="#000" opacity="0.45" filter="url(#sh)"/><circle cx="463.1" cy="321.2" r="7.4" fill="#fff" stroke="#bdbdbd" stroke-width="0.5"/><circle cx="463.1" cy="321.2" r="6.3" fill="#d6d6d6"/>
<circle cx="465.2" cy="352.4" r="7.2" fill="#000" opacity="0.45" filter="url(#sh)"/><circle cx="463.1" cy="349.9" r="7.4" fill="#fff" stroke="#bdbdbd" stroke-width="0.5"/><circle cx="463.1" cy="349.9" r="6.3" fill="#d6d6d6"/>
<circle cx="508.1" cy="280.1" r="7.2" fill="#000" opacity="0.45" filter="url(#sh)"/><circle cx="506.0" cy="277.6" r="7.4" fill="#fff" stroke="#bdbdbd" stroke-width="0.5"/><circle cx="506.0" cy="277.6" r="6.3" fill="#c0c0c0"/>
<circle cx="537.4" cy="280.1" r="7.2" fill="#000" opacity="0.45" filter="url(#sh)"/><circle cx="535.3" cy="277.6" r="7.4" fill="#fff" stroke="#bdbdbd" stroke-width="0.5"/><circle cx="535.3" cy="277.6" r="6.3" fill="#c0c0c0"/>
<circle cx="580.6" cy="280.1" r="7.2" fill="#000" opacity="0.45" filter="url(#sh)"/><circle cx="578.5" cy="277.6" r="7.4" fill="#fff" stroke="#bdbdbd" stroke-width="0.5"/><circle cx="578.5" cy="277.6" r="6.3" fill="#dcdcdc"/>
<circle cx="508.1" cy="309.1" r="7.2" fill="#000" opacity="0.45" filter="url(#sh)"/><circle cx="506.0" cy="306.6" r="7.4" fill="#fff" stroke="#bdbdbd" stroke-width="0.5"/><circle cx="506.0" cy="306.6" r="6.3" fill="#c0c0c0"/>
<circle cx="537.4" cy="309.1" r="7.2" fill="#000" opacity="0.45" filter="url(#sh)"/><circle cx="535.3" cy="306.6" r="7.4" fill="#fff" stroke="#bdbdbd" stroke-width="0.5"/><circle cx="535.3" cy="306.6" r="6.3" fill="#c0c0c0"/>
<circle cx="580.6" cy="309.1" r="7.2" fill="#000" opacity="0.45" filter="url(#sh)"/><circle cx="578.5" cy="306.6" r="7.4" fill="#fff" stroke="#bdbdbd" stroke-width="0.5"/><circle cx="578.5" cy="306.6" r="6.3" fill="#dcdcdc"/>
<circle cx="508.1" cy="337.7" r="7.2" fill="#000" opacity="0.45" filter="url(#sh)"/><circle cx="506.0" cy="335.2" r="7.4" fill="#fff" stroke="#bdbdbd" stroke-width="0.5"/><circle cx="506.0" cy="335.2" r="6.3" fill="#c0c0c0"/>
<circle cx="537.4" cy="337.7" r="7.2" fill="#000" opacity="0.45" filter="url(#sh)"/><circle cx="535.3" cy="335.2" r="7.4" fill="#fff" stroke="#bdbdbd" stroke-width="0.5"/><circle cx="535.3" cy="335.2" r="6.3" fill="#c0c0c0"/>
<circle cx="580.6" cy="337.7" r="7.2" fill="#000" opacity="0.45" filter="url(#sh)"/><circle cx="578.5" cy="335.2" r="7.4" fill="#fff" stroke="#bdbdbd" stroke-width="0.5"/><circle cx="578.5" cy="335.2" r="6.3" fill="#dcdcdc"/>
<g class="tx">
<text class="lb" transform="scale(1.04 1)" x="85.29 103.46 121.63 139.81 157.98 176.15 194.33" y="420.75">電子顕微鏡画像</text>
<text class="lb" transform="scale(1.04 1)" x="263.68 281.23 296.54 313.94 332.02 348.61" y="258.6">ラベルデータ</text>
<text class="lb" transform="scale(1.04 1)" x="422.04 440.50 458.29 476.56 491.63 505.17 521.27 537.50 554.69" y="420.75">識別器ネットワーク</text>
<text class="lb" transform="scale(1.04 1)" x="691.35 709.52 727.69 745.87" y="420.75">識別結果</text>
</g>
</svg></body></html>
